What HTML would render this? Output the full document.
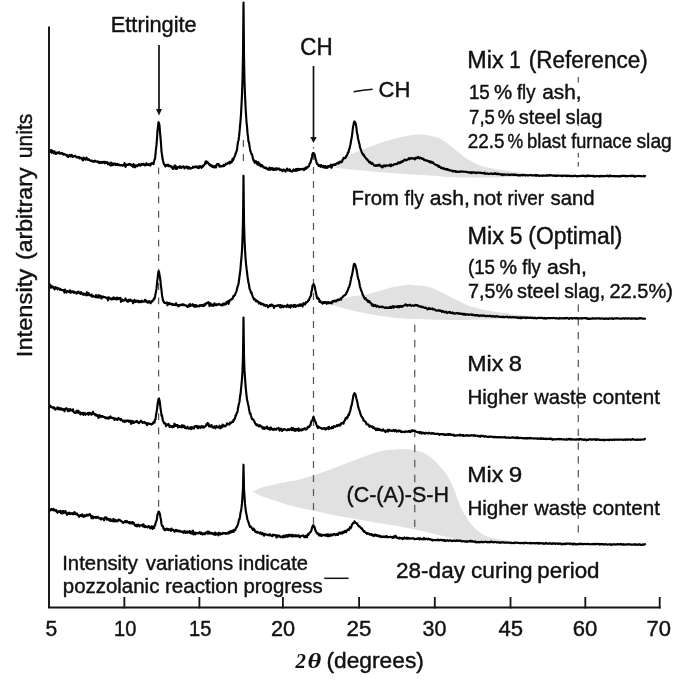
<!DOCTYPE html>
<html><head><meta charset="utf-8"><title>XRD patterns</title>
<style>
html,body{margin:0;padding:0;background:#fff;}
body{width:685px;height:685px;overflow:hidden;}
svg{display:block;}
tspan.ser{font-family:"Liberation Serif","Times New Roman",serif !important;font-weight:bold;font-style:italic;stroke-width:0 !important;}
text{font-family:"Liberation Sans",Arial,Helvetica,sans-serif;fill:#111;stroke:#111;stroke-width:0.42px;}
</style></head><body>
<svg width="685" height="685" viewBox="0 0 685 685">
<rect width="685" height="685" fill="#fff"/>
<path d="M325.5,166.2 C328.1,165.3 337.2,162.8 341.3,160.9 C345.4,159.0 346.8,156.6 350.0,154.8 C353.2,153.1 356.7,151.9 360.5,150.4 C364.3,148.9 368.7,147.2 372.8,145.7 C376.9,144.2 380.9,142.9 385.0,141.6 C389.1,140.3 393.2,139.1 397.3,138.1 C401.4,137.1 405.8,136.1 409.6,135.5 C413.4,134.9 416.7,134.6 420.1,134.6 C423.5,134.6 426.9,135.1 430.0,135.7 C433.1,136.3 435.9,136.8 438.8,138.1 C441.7,139.4 444.6,141.3 447.5,143.4 C450.4,145.5 453.4,148.1 456.3,150.4 C459.2,152.7 462.1,155.4 465.0,157.4 C467.9,159.4 470.9,161.2 473.8,162.7 C476.7,164.2 478.2,165.0 482.6,166.2 C487.0,167.4 494.2,168.7 500.0,169.7 C505.8,170.7 511.8,171.5 517.6,172.3 C523.4,173.1 529.6,173.8 535.0,174.4 C540.4,175.0 547.5,175.6 550.0,175.8 C544.6,176.0 525.9,176.5 517.6,176.7 C509.3,176.9 505.8,177.0 500.0,177.2 C494.2,177.3 488.4,177.5 482.6,177.6 C476.8,177.7 470.9,177.7 465.0,177.6 C459.1,177.5 452.5,177.3 447.5,177.0 C442.5,176.7 439.6,176.2 435.0,175.8 C430.4,175.5 427.0,175.3 420.1,174.9 C413.2,174.5 402.6,173.9 393.8,173.2 C385.1,172.5 376.4,171.7 367.6,170.9 C358.9,170.1 348.3,169.2 341.3,168.4 C334.3,167.6 328.1,166.6 325.5,166.2Z" fill="#e1e1e1"/>
<path d="M326.4,303.3 C328.9,302.6 336.8,300.1 341.3,298.9 C345.8,297.7 349.1,297.1 353.5,296.3 C357.9,295.5 363.2,295.1 367.6,294.2 C372.0,293.3 375.7,291.9 379.8,290.7 C383.9,289.5 388.3,288.1 392.1,287.2 C395.9,286.3 399.4,285.8 402.6,285.4 C405.8,285.0 407.9,284.8 411.4,284.9 C414.9,285.0 420.2,285.6 423.6,286.1 C427.0,286.6 429.5,287.2 432.0,288.0 C434.5,288.8 436.2,289.8 438.8,291.0 C441.4,292.2 444.6,293.9 447.5,295.4 C450.4,296.9 453.4,298.3 456.3,299.8 C459.2,301.3 462.1,302.9 465.0,304.2 C467.9,305.4 470.9,306.4 473.8,307.3 C476.7,308.2 478.2,308.5 482.6,309.4 C487.0,310.3 494.2,311.7 500.0,312.6 C505.8,313.5 511.8,314.1 517.6,314.7 C523.4,315.3 529.6,315.9 535.0,316.4 C540.4,316.9 547.5,317.5 550.0,317.7 C544.0,317.8 522.3,318.2 514.0,318.4 C505.7,318.6 505.2,318.8 500.0,319.0 C494.8,319.2 488.4,319.5 482.6,319.6 C476.8,319.8 470.9,319.8 465.0,319.9 C459.1,319.9 453.3,320.0 447.5,319.9 C441.7,319.8 436.0,319.6 430.0,319.5 C424.0,319.4 417.4,319.4 411.4,319.1 C405.4,318.8 399.6,318.4 393.8,317.7 C388.0,317.0 382.1,316.1 376.3,315.2 C370.5,314.2 364.6,313.2 358.8,312.0 C353.0,310.8 346.7,309.1 341.3,307.7 C335.9,306.2 328.9,304.0 326.4,303.3Z" fill="#e1e1e1"/>
<path d="M252.8,491.7 C254.6,490.9 257.8,488.6 263.4,487.0 C269.0,485.4 280.6,483.2 286.7,481.9 C292.8,480.6 293.4,481.2 300.0,479.4 C306.6,477.6 317.6,474.1 326.3,471.0 C335.1,467.9 343.8,464.2 352.5,461.0 C361.2,457.8 371.7,453.7 378.8,451.8 C385.9,449.9 389.8,450.0 395.0,449.6 C400.2,449.2 405.8,449.3 410.0,449.6 C414.2,449.9 416.9,450.4 420.0,451.4 C423.1,452.4 425.9,453.8 428.8,455.8 C431.7,457.9 434.6,460.6 437.5,463.7 C440.4,466.8 443.7,470.3 446.3,474.2 C448.9,478.1 451.4,483.1 453.3,487.3 C455.2,491.5 456.2,495.8 457.7,499.6 C459.1,503.4 460.4,506.9 462.0,510.1 C463.6,513.3 465.2,515.9 467.3,518.8 C469.4,521.7 471.7,525.0 474.3,527.6 C476.9,530.2 479.8,532.8 483.0,534.6 C486.2,536.4 489.5,537.3 493.6,538.3 C497.7,539.3 503.2,539.9 507.6,540.5 C512.0,541.1 517.9,541.8 520.0,542.0 C516.7,542.1 506.7,542.5 500.0,542.5 C493.3,542.5 487.2,542.3 480.0,541.8 C472.8,541.2 462.8,540.2 456.6,539.2 C450.4,538.2 447.9,537.1 442.6,535.9 C437.3,534.7 432.1,533.3 425.0,531.8 C417.9,530.2 407.5,528.0 400.0,526.6 C392.5,525.2 387.4,524.5 380.2,523.3 C373.0,522.1 364.6,520.6 356.8,519.2 C349.0,517.8 341.2,516.5 333.4,515.0 C325.6,513.5 317.8,511.8 310.0,510.0 C302.2,508.2 294.5,506.6 286.7,504.4 C278.9,502.2 268.2,498.4 263.4,496.8 C258.6,495.2 259.8,495.4 258.0,494.5 C256.2,493.6 253.7,492.2 252.8,491.7Z" fill="#e1e1e1"/>
<line x1="158.6" y1="167.5" x2="158.6" y2="508" stroke="#585858" stroke-width="1.25" stroke-dasharray="6.8 7.65" stroke-dashoffset="0"/>
<line x1="243.4" y1="140" x2="243.4" y2="166" stroke="#585858" stroke-width="1.25" stroke-dasharray="7 7" stroke-dashoffset="0"/>
<line x1="313.5" y1="147" x2="313.5" y2="148.5" stroke="#585858" stroke-width="1.25" stroke-dasharray="2 2" stroke-dashoffset="0"/>
<line x1="313.5" y1="153" x2="313.5" y2="525" stroke="#585858" stroke-width="1.25" stroke-dasharray="7 7" stroke-dashoffset="0"/>
<line x1="414.75" y1="324.75" x2="414.75" y2="527" stroke="#585858" stroke-width="1.25" stroke-dasharray="7.5 7.5" stroke-dashoffset="0"/>
<line x1="578.3" y1="77" x2="578.3" y2="82.5" stroke="#585858" stroke-width="1.25" stroke-dasharray="6 6" stroke-dashoffset="0"/>
<line x1="578.3" y1="124.5" x2="578.3" y2="126" stroke="#585858" stroke-width="1.25" stroke-dasharray="2 2" stroke-dashoffset="0"/>
<line x1="578.3" y1="153" x2="578.3" y2="167" stroke="#585858" stroke-width="1.25" stroke-dasharray="4.5 4.5" stroke-dashoffset="0"/>
<line x1="578.3" y1="304.5" x2="578.3" y2="534" stroke="#585858" stroke-width="1.25" stroke-dasharray="7.2 6.6" stroke-dashoffset="0"/>
<path d="M49.0,152.1 L49.5,150.7 L50.0,150.8 L50.5,150.5 L51.0,152.1 L51.5,150.0 L52.0,152.8 L52.5,151.0 L53.0,152.1 L53.5,152.3 L54.0,153.4 L54.5,151.2 L55.0,152.9 L55.5,153.0 L56.0,154.0 L56.5,152.5 L57.0,153.2 L57.5,152.5 L58.0,152.8 L58.5,153.4 L59.0,152.1 L59.5,153.6 L60.0,153.4 L60.5,153.3 L61.0,153.8 L61.5,152.9 L62.0,153.6 L62.5,153.3 L63.0,153.9 L63.5,154.6 L64.0,153.9 L64.5,154.2 L65.0,154.6 L65.5,154.6 L66.0,154.9 L66.5,155.6 L67.0,154.8 L67.5,156.0 L68.0,157.1 L68.5,156.3 L69.0,155.6 L69.5,154.9 L70.0,154.8 L70.5,156.5 L71.0,155.1 L71.5,154.8 L72.0,155.2 L72.5,157.0 L73.0,155.9 L73.5,156.3 L74.0,156.4 L74.5,156.2 L75.0,155.6 L75.5,156.3 L76.0,156.5 L76.5,157.5 L77.0,157.4 L77.5,157.4 L78.0,157.1 L78.5,157.6 L79.0,156.8 L79.5,158.4 L80.0,158.3 L80.5,157.7 L81.0,158.2 L81.5,158.1 L82.0,159.3 L82.5,159.9 L83.0,160.3 L83.5,157.7 L84.0,157.8 L84.5,158.6 L85.0,159.2 L85.5,159.7 L86.0,159.2 L86.5,157.6 L87.0,158.9 L87.5,159.7 L88.0,159.1 L88.5,159.9 L89.0,159.5 L89.5,159.7 L90.0,160.6 L90.5,160.9 L91.0,161.0 L91.5,161.1 L92.0,160.5 L92.5,161.4 L93.0,161.2 L93.5,161.9 L94.0,161.7 L94.5,161.0 L95.0,160.7 L95.5,160.8 L96.0,161.6 L96.5,161.6 L97.0,161.5 L97.5,161.8 L98.0,161.4 L98.5,162.7 L99.0,161.9 L99.5,163.1 L100.0,162.2 L100.5,162.6 L101.0,161.9 L101.5,162.8 L102.0,163.0 L102.5,162.0 L103.0,162.4 L103.5,162.5 L104.0,161.7 L104.5,163.0 L105.0,163.4 L105.5,161.9 L106.0,163.0 L106.5,162.2 L107.0,163.0 L107.5,162.1 L108.0,164.3 L108.5,163.8 L109.0,163.8 L109.5,163.3 L110.0,164.9 L110.5,165.4 L111.0,162.5 L111.5,164.9 L112.0,165.3 L112.5,164.6 L113.0,163.4 L113.5,164.8 L114.0,164.2 L114.5,164.0 L115.0,163.5 L115.5,165.0 L116.0,165.1 L116.5,164.2 L117.0,164.8 L117.5,163.8 L118.0,165.2 L118.5,164.7 L119.0,164.6 L119.5,164.8 L120.0,165.5 L120.5,165.4 L121.0,165.2 L121.5,165.0 L122.0,165.3 L122.5,165.6 L123.0,165.1 L123.5,165.3 L124.0,164.6 L124.5,163.1 L125.0,165.8 L125.5,166.9 L126.0,165.7 L126.5,164.6 L127.0,164.8 L127.5,164.8 L128.0,164.9 L128.5,164.1 L129.0,164.6 L129.5,163.9 L130.0,164.7 L130.5,164.3 L131.0,165.2 L131.5,164.7 L132.0,165.8 L132.5,165.3 L133.0,167.0 L133.5,164.0 L134.0,165.0 L134.5,166.1 L135.0,167.3 L135.5,165.4 L136.0,165.6 L136.5,165.4 L137.0,166.3 L137.5,165.2 L138.0,165.7 L138.5,165.0 L139.0,164.1 L139.5,165.1 L140.0,165.1 L140.5,165.7 L141.0,164.4 L141.5,164.0 L142.0,164.6 L142.5,164.5 L143.0,164.2 L143.5,163.9 L144.0,165.0 L144.5,164.4 L145.0,165.4 L145.5,164.8 L146.0,165.0 L146.5,163.2 L147.0,164.5 L147.5,164.8 L148.0,165.0 L148.5,165.0 L149.0,164.1 L149.5,165.0 L150.0,164.1 L150.5,165.6 L151.0,163.5 L151.5,163.4 L152.0,162.9 L152.5,163.5 L153.0,162.8 L153.5,164.2 L154.0,161.8 L154.5,159.6 L155.0,158.9 L155.5,154.1 L156.0,149.0 L156.5,144.9 L157.0,138.4 L157.5,130.8 L158.0,126.6 L158.5,122.2 L159.0,123.3 L159.5,125.7 L160.0,132.1 L160.5,137.9 L161.0,143.3 L161.5,151.8 L162.0,154.6 L162.5,158.6 L163.0,160.8 L163.5,162.9 L164.0,164.2 L164.5,164.8 L165.0,165.4 L165.5,166.5 L166.0,165.3 L166.5,164.9 L167.0,165.2 L167.5,165.5 L168.0,164.6 L168.5,166.2 L169.0,165.4 L169.5,165.8 L170.0,166.4 L170.5,165.8 L171.0,166.3 L171.5,167.5 L172.0,167.7 L172.5,166.9 L173.0,169.0 L173.5,166.9 L174.0,167.4 L174.5,167.3 L175.0,165.3 L175.5,168.8 L176.0,167.6 L176.5,166.6 L177.0,168.9 L177.5,167.6 L178.0,167.6 L178.5,167.1 L179.0,167.5 L179.5,166.3 L180.0,167.7 L180.5,166.7 L181.0,167.1 L181.5,167.8 L182.0,166.7 L182.5,166.6 L183.0,166.6 L183.5,166.4 L184.0,167.5 L184.5,168.4 L185.0,167.6 L185.5,167.5 L186.0,166.5 L186.5,167.0 L187.0,166.7 L187.5,168.5 L188.0,167.2 L188.5,168.6 L189.0,167.0 L189.5,167.9 L190.0,168.3 L190.5,168.8 L191.0,168.1 L191.5,168.1 L192.0,167.8 L192.5,167.9 L193.0,166.6 L193.5,167.4 L194.0,167.1 L194.5,167.4 L195.0,167.3 L195.5,166.3 L196.0,166.9 L196.5,166.7 L197.0,167.2 L197.5,167.8 L198.0,166.5 L198.5,167.3 L199.0,168.1 L199.5,166.2 L200.0,166.6 L200.5,166.4 L201.0,166.7 L201.5,167.9 L202.0,166.6 L202.5,165.8 L203.0,166.6 L203.5,165.3 L204.0,165.4 L204.5,164.3 L205.0,164.0 L205.5,161.6 L206.0,163.4 L206.5,161.4 L207.0,161.9 L207.5,162.1 L208.0,162.8 L208.5,163.4 L209.0,164.5 L209.5,164.2 L210.0,165.3 L210.5,164.8 L211.0,165.9 L211.5,166.3 L212.0,165.4 L212.5,166.8 L213.0,166.1 L213.5,167.2 L214.0,167.1 L214.5,167.5 L215.0,165.9 L215.5,166.8 L216.0,167.4 L216.5,165.5 L217.0,164.2 L217.5,164.3 L218.0,163.8 L218.5,164.0 L219.0,165.2 L219.5,166.7 L220.0,165.5 L220.5,166.4 L221.0,166.2 L221.5,166.5 L222.0,166.2 L222.5,166.0 L223.0,166.1 L223.5,164.8 L224.0,166.1 L224.5,165.7 L225.0,164.5 L225.5,164.9 L226.0,163.6 L226.5,163.5 L227.0,164.0 L227.5,163.6 L228.0,163.1 L228.5,162.6 L229.0,162.5 L229.5,163.6 L230.0,161.5 L230.5,162.8 L231.0,162.2 L231.5,162.3 L232.0,161.6 L232.5,158.9 L233.0,160.5 L233.5,159.2 L234.0,157.9 L234.5,156.5 L235.0,156.1 L235.5,153.4 L236.0,153.3 L236.5,150.9 L237.0,149.9 L237.5,145.3 L238.0,142.0 L238.5,140.5 L239.0,136.7 L239.5,132.0 L240.0,126.2 L240.5,121.1 L241.0,114.3 L241.5,105.0 L242.0,94.5 L242.5,80.0 L243.0,56.0 L243.5,2.5 L244.0,55.9 L244.5,81.6 L245.0,94.5 L245.5,106.3 L246.0,114.0 L246.5,121.9 L247.0,126.3 L247.5,133.2 L248.0,136.5 L248.5,141.7 L249.0,142.3 L249.5,146.1 L250.0,148.9 L250.5,151.6 L251.0,152.6 L251.5,154.3 L252.0,154.3 L252.5,156.6 L253.0,158.8 L253.5,160.5 L254.0,160.2 L254.5,162.5 L255.0,162.9 L255.5,161.9 L256.0,161.1 L256.5,161.9 L257.0,163.1 L257.5,164.6 L258.0,163.9 L258.5,162.2 L259.0,163.8 L259.5,165.4 L260.0,164.4 L260.5,164.3 L261.0,166.4 L261.5,165.2 L262.0,165.0 L262.5,166.1 L263.0,166.7 L263.5,166.6 L264.0,167.7 L264.5,168.0 L265.0,167.8 L265.5,167.5 L266.0,168.5 L266.5,168.0 L267.0,168.9 L267.5,169.0 L268.0,168.9 L268.5,169.9 L269.0,168.9 L269.5,167.6 L270.0,167.9 L270.5,169.8 L271.0,168.8 L271.5,168.8 L272.0,168.0 L272.5,169.6 L273.0,168.5 L273.5,169.9 L274.0,168.7 L274.5,169.8 L275.0,169.6 L275.5,168.4 L276.0,169.7 L276.5,168.4 L277.0,168.3 L277.5,169.5 L278.0,168.7 L278.5,168.6 L279.0,169.1 L279.5,168.7 L280.0,170.3 L280.5,170.0 L281.0,169.7 L281.5,169.8 L282.0,170.4 L282.5,171.1 L283.0,170.4 L283.5,169.5 L284.0,170.4 L284.5,170.1 L285.0,170.3 L285.5,171.7 L286.0,169.9 L286.5,169.7 L287.0,168.6 L287.5,169.5 L288.0,170.6 L288.5,170.0 L289.0,170.6 L289.5,169.3 L290.0,169.8 L290.5,170.7 L291.0,171.3 L291.5,171.1 L292.0,171.5 L292.5,171.5 L293.0,170.8 L293.5,169.4 L294.0,170.2 L294.5,170.6 L295.0,170.0 L295.5,170.8 L296.0,169.1 L296.5,169.7 L297.0,170.7 L297.5,168.8 L298.0,169.7 L298.5,170.1 L299.0,168.9 L299.5,169.9 L300.0,169.2 L300.5,169.4 L301.0,169.1 L301.5,169.4 L302.0,168.9 L302.5,169.2 L303.0,168.7 L303.5,169.3 L304.0,170.1 L304.5,168.5 L305.0,168.8 L305.5,167.7 L306.0,168.9 L306.5,167.7 L307.0,167.0 L307.5,167.6 L308.0,166.5 L308.5,166.5 L309.0,166.4 L309.5,164.0 L310.0,163.1 L310.5,162.7 L311.0,160.6 L311.5,158.9 L312.0,157.0 L312.5,153.8 L313.0,153.1 L313.5,152.9 L314.0,153.6 L314.5,154.0 L315.0,156.3 L315.5,158.9 L316.0,160.3 L316.5,162.2 L317.0,164.0 L317.5,164.1 L318.0,164.2 L318.5,165.9 L319.0,165.7 L319.5,165.8 L320.0,165.1 L320.5,166.8 L321.0,165.0 L321.5,165.4 L322.0,166.4 L322.5,167.2 L323.0,167.3 L323.5,165.9 L324.0,166.7 L324.5,166.4 L325.0,168.0 L325.5,166.1 L326.0,166.7 L326.5,167.5 L327.0,166.8 L327.5,167.8 L328.0,166.1 L328.5,166.6 L329.0,166.6 L329.5,165.8 L330.0,166.6 L330.5,166.3 L331.0,164.7 L331.5,167.8 L332.0,165.9 L332.5,165.4 L333.0,164.6 L333.5,165.0 L334.0,164.4 L334.5,164.9 L335.0,164.4 L335.5,164.9 L336.0,163.7 L336.5,163.6 L337.0,163.5 L337.5,162.8 L338.0,162.7 L338.5,163.5 L339.0,163.1 L339.5,161.9 L340.0,161.5 L340.5,162.0 L341.0,162.3 L341.5,161.3 L342.0,161.8 L342.5,159.9 L343.0,159.8 L343.5,157.9 L344.0,158.5 L344.5,158.2 L345.0,157.8 L345.5,157.9 L346.0,156.2 L346.5,156.3 L347.0,155.1 L347.5,154.2 L348.0,152.3 L348.5,152.4 L349.0,149.6 L349.5,148.9 L350.0,146.3 L350.5,144.2 L351.0,141.2 L351.5,138.6 L352.0,135.6 L352.5,131.6 L353.0,127.1 L353.5,125.0 L354.0,122.1 L354.5,121.5 L355.0,122.1 L355.5,123.0 L356.0,124.9 L356.5,128.6 L357.0,133.0 L357.5,134.7 L358.0,138.5 L358.5,140.1 L359.0,142.9 L359.5,144.1 L360.0,147.6 L360.5,148.5 L361.0,150.5 L361.5,151.3 L362.0,153.0 L362.5,153.5 L363.0,154.8 L363.5,154.3 L364.0,155.2 L364.5,156.7 L365.0,157.1 L365.5,157.6 L366.0,158.4 L366.5,159.0 L367.0,159.1 L367.5,160.4 L368.0,160.2 L368.5,160.9 L369.0,162.0 L369.5,162.5 L370.0,161.9 L370.5,163.1 L371.0,162.6 L371.5,163.9 L372.0,162.8 L372.5,163.5 L373.0,164.0 L373.5,164.5 L374.0,165.5 L374.5,165.3 L375.0,165.8 L375.5,165.8 L376.0,165.1 L376.5,165.2 L377.0,165.8 L377.5,165.3 L378.0,165.2 L378.5,164.8 L379.0,165.6 L379.5,164.5 L380.0,165.7 L380.5,165.7 L381.0,166.6 L381.5,166.3 L382.0,166.5 L382.5,167.4 L383.0,165.9 L383.5,166.3 L384.0,165.3 L384.5,166.2 L385.0,166.2 L385.5,166.3 L386.0,165.3 L386.5,165.7 L387.0,165.6 L387.5,165.5 L388.0,165.6 L388.5,165.5 L389.0,165.5 L389.5,164.8 L390.0,164.7 L390.5,166.3 L391.0,166.0 L391.5,164.6 L392.0,165.2 L392.5,165.1 L393.0,165.3 L393.5,164.9 L394.0,164.3 L394.5,164.5 L395.0,164.1 L395.5,164.2 L396.0,163.8 L396.5,163.8 L397.0,164.2 L397.5,163.9 L398.0,162.6 L398.5,162.7 L399.0,162.3 L399.5,163.1 L400.0,162.4 L400.5,162.9 L401.0,161.8 L401.5,161.7 L402.0,161.1 L402.5,161.9 L403.0,161.1 L403.5,160.5 L404.0,160.5 L404.5,159.5 L405.0,160.1 L405.5,160.2 L406.0,160.0 L406.5,160.3 L407.0,159.5 L407.5,159.6 L408.0,159.2 L408.5,158.9 L409.0,158.2 L409.5,159.3 L410.0,158.5 L410.5,158.5 L411.0,158.0 L411.5,158.6 L412.0,158.5 L412.5,158.4 L413.0,158.2 L413.5,158.7 L414.0,158.5 L414.5,158.4 L415.0,159.4 L415.5,157.9 L416.0,157.9 L416.5,157.7 L417.0,158.2 L417.5,157.8 L418.0,157.0 L418.5,157.6 L419.0,158.1 L419.5,158.5 L420.0,157.6 L420.5,158.1 L421.0,158.2 L421.5,158.0 L422.0,158.8 L422.5,158.7 L423.0,159.0 L423.5,158.9 L424.0,159.9 L424.5,159.7 L425.0,160.2 L425.5,160.0 L426.0,160.7 L426.5,160.3 L427.0,160.5 L427.5,160.8 L428.0,161.1 L428.5,161.3 L429.0,161.9 L429.5,161.2 L430.0,161.4 L430.5,162.6 L431.0,162.5 L431.5,161.7 L432.0,162.8 L432.5,163.0 L433.0,162.4 L433.5,163.4 L434.0,163.7 L434.5,164.1 L435.0,164.5 L435.5,164.5 L436.0,165.1 L436.5,165.0 L437.0,165.1 L437.5,165.5 L438.0,166.3 L438.5,165.7 L439.0,166.8 L439.5,166.4 L440.0,167.0 L440.5,167.5 L441.0,168.1 L441.5,167.4 L442.0,167.9 L442.5,168.3 L443.0,168.3 L443.5,168.9 L444.0,168.2 L444.5,169.0 L445.0,169.1 L445.5,169.0 L446.0,169.5 L446.5,168.8 L447.0,169.6 L447.5,169.2 L448.0,169.9 L448.5,169.7 L449.0,170.2 L449.5,170.4 L450.0,169.9 L450.5,170.4 L451.0,170.6 L451.5,170.7 L452.0,170.6 L452.5,171.3 L453.0,171.0 L453.5,171.5 L454.0,170.9 L454.5,170.8 L455.0,171.1 L455.5,171.0 L456.0,172.0 L456.5,171.5 L457.0,172.0 L457.5,171.6 L458.0,171.6 L458.5,171.8 L459.0,171.8 L459.5,172.0 L460.0,171.7 L460.5,171.5 L461.0,171.3 L461.5,171.5 L462.0,171.7 L462.5,171.7 L463.0,171.5 L463.5,171.5 L464.0,171.7 L464.5,171.8 L465.0,171.7 L465.5,171.8 L466.0,171.9 L466.5,172.2 L467.0,171.9 L467.5,172.1 L468.0,172.2 L468.5,172.3 L469.0,172.7 L469.5,172.6 L470.0,172.6 L470.5,172.1 L471.0,172.7 L471.5,173.1 L472.0,172.3 L472.5,172.2 L473.0,172.5 L473.5,172.8 L474.0,172.7 L474.5,172.3 L475.0,172.5 L475.5,172.8 L476.0,172.7 L476.5,173.1 L477.0,172.8 L477.5,172.6 L478.0,172.7 L478.5,172.5 L479.0,172.5 L479.5,172.8 L480.0,173.0 L480.5,172.5 L481.0,172.8 L481.5,173.0 L482.0,173.2 L482.5,173.1 L483.0,173.2 L483.5,173.1 L484.0,173.4 L484.5,172.7 L485.0,173.7 L485.5,173.8 L486.0,173.5 L486.5,173.6 L487.0,173.6 L487.5,173.4 L488.0,173.8 L488.5,173.9 L489.0,173.9 L489.5,173.9 L490.0,173.7 L490.5,173.6 L491.0,173.5 L491.5,173.7 L492.0,173.6 L492.5,174.1 L493.0,173.7 L493.5,173.5 L494.0,173.9 L494.5,173.8 L495.0,173.1 L495.5,173.9 L496.0,173.5 L496.5,174.1 L497.0,173.7 L497.5,173.7 L498.0,174.2 L498.5,173.7 L499.0,174.1 L499.5,174.3 L500.0,174.4 L500.5,174.5 L501.0,174.3 L501.5,174.2 L502.0,175.0 L502.5,174.4 L503.0,175.0 L503.5,174.4 L504.0,174.7 L504.5,174.8 L505.0,174.3 L505.5,174.6 L506.0,174.8 L506.5,174.7 L507.0,174.6 L507.5,174.7 L508.0,174.6 L508.5,174.5 L509.0,175.0 L509.5,174.6 L510.0,175.1 L510.5,174.9 L511.0,174.6 L511.5,174.7 L512.0,174.6 L512.5,174.5 L513.0,174.8 L513.5,174.5 L514.0,175.1 L514.5,174.9 L515.0,174.6 L515.5,174.9 L516.0,174.9 L516.5,174.7 L517.0,175.2 L517.5,175.3 L518.0,175.3 L518.5,175.1 L519.0,175.5 L519.5,175.2 L520.0,175.4 L520.5,175.6 L521.0,175.1 L521.5,174.8 L522.0,175.1 L522.5,175.3 L523.0,175.3 L523.5,174.8 L524.0,175.1 L524.5,175.2 L525.0,175.3 L525.5,175.5 L526.0,175.0 L526.5,175.0 L527.0,175.4 L527.5,175.4 L528.0,175.4 L528.5,175.5 L529.0,175.2 L529.5,175.2 L530.0,175.1 L530.5,174.9 L531.0,175.1 L531.5,175.4 L532.0,175.3 L532.5,175.2 L533.0,175.4 L533.5,175.3 L534.0,175.5 L534.5,175.5 L535.0,175.3 L535.5,174.9 L536.0,175.8 L536.5,175.5 L537.0,175.0 L537.5,175.5 L538.0,175.6 L538.5,175.6 L539.0,175.8 L539.5,175.5 L540.0,175.8 L540.5,175.7 L541.0,175.6 L541.5,175.6 L542.0,175.7 L542.5,175.8 L543.0,175.4 L543.5,175.5 L544.0,175.7 L544.5,175.6 L545.0,175.6 L545.5,175.7 L546.0,175.8 L546.5,175.5 L547.0,175.1 L547.5,175.6 L548.0,175.7 L548.5,175.5 L549.0,175.5 L549.5,175.0 L550.0,175.6 L550.5,175.4 L551.0,175.2 L551.5,175.3 L552.0,175.3 L552.5,175.6 L553.0,175.6 L553.5,175.8 L554.0,175.7 L554.5,175.4 L555.0,175.4 L555.5,175.9 L556.0,176.0 L556.5,175.7 L557.0,175.8 L557.5,175.5 L558.0,175.3 L558.5,175.6 L559.0,175.7 L559.5,175.8 L560.0,175.7 L560.5,175.6 L561.0,175.9 L561.5,176.1 L562.0,175.7 L562.5,176.2 L563.0,175.5 L563.5,175.6 L564.0,175.7 L564.5,175.6 L565.0,176.0 L565.5,175.6 L566.0,175.9 L566.5,175.7 L567.0,176.2 L567.5,175.7 L568.0,175.9 L568.5,175.9 L569.0,175.6 L569.5,176.1 L570.0,176.2 L570.5,176.1 L571.0,175.8 L571.5,175.9 L572.0,176.2 L572.5,176.2 L573.0,176.3 L573.5,175.7 L574.0,175.8 L574.5,175.9 L575.0,175.5 L575.5,175.9 L576.0,176.1 L576.5,176.3 L577.0,176.1 L577.5,176.4 L578.0,176.2 L578.5,176.1 L579.0,175.9 L579.5,176.1 L580.0,176.0 L580.5,176.0 L581.0,175.9 L581.5,176.0 L582.0,176.0 L582.5,175.7 L583.0,176.0 L583.5,176.0 L584.0,175.6 L584.5,176.0 L585.0,176.2 L585.5,176.4 L586.0,176.2 L586.5,175.7 L587.0,176.1 L587.5,176.0 L588.0,175.4 L588.5,176.0 L589.0,176.1 L589.5,175.9 L590.0,175.9 L590.5,175.9 L591.0,176.2 L591.5,175.9 L592.0,176.0 L592.5,176.1 L593.0,176.1 L593.5,175.7 L594.0,176.5 L594.5,176.3 L595.0,176.3 L595.5,176.3 L596.0,176.1 L596.5,176.1 L597.0,176.0 L597.5,176.1 L598.0,176.3 L598.5,176.2 L599.0,176.1 L599.5,176.6 L600.0,175.9 L600.5,175.9 L601.0,176.3 L601.5,176.2 L602.0,175.8 L602.5,176.1 L603.0,176.0 L603.5,176.3 L604.0,175.8 L604.5,176.2 L605.0,176.1 L605.5,176.0 L606.0,176.0 L606.5,176.1 L607.0,175.6 L607.5,176.0 L608.0,175.9 L608.5,176.4 L609.0,175.8 L609.5,176.1 L610.0,175.4 L610.5,176.2 L611.0,176.1 L611.5,175.9 L612.0,176.1 L612.5,176.0 L613.0,176.1 L613.5,176.1 L614.0,175.9 L614.5,176.1 L615.0,176.5 L615.5,176.1 L616.0,176.2 L616.5,176.1 L617.0,176.2 L617.5,176.3 L618.0,176.2 L618.5,176.4 L619.0,176.1 L619.5,176.2 L620.0,176.4 L620.5,176.2 L621.0,175.9 L621.5,176.2 L622.0,175.8 L622.5,175.8 L623.0,175.7 L623.5,175.9 L624.0,175.8 L624.5,175.8 L625.0,176.0 L625.5,176.3 L626.0,175.9 L626.5,176.1 L627.0,176.0 L627.5,176.0 L628.0,176.3 L628.5,176.1 L629.0,175.9 L629.5,176.0 L630.0,175.9 L630.5,176.0 L631.0,176.2 L631.5,175.7 L632.0,175.9 L632.5,175.9 L633.0,175.7 L633.5,176.4 L634.0,176.2 L634.5,176.6 L635.0,176.0 L635.5,176.5 L636.0,176.2 L636.5,176.2 L637.0,176.1 L637.5,176.0 L638.0,175.9 L638.5,176.2 L639.0,175.9 L639.5,176.0 L640.0,176.1 L640.5,176.2 L641.0,176.1 L641.5,176.2 L642.0,176.3 L642.5,176.2 L643.0,176.2 L643.5,175.9 L644.0,175.9 L644.5,176.4 L645.0,176.0" fill="none" stroke="#000" stroke-width="2.15" stroke-linejoin="round" stroke-linecap="round"/>
<path d="M49.0,284.9 L49.5,285.7 L50.0,284.6 L50.5,287.6 L51.0,285.6 L51.5,286.8 L52.0,287.6 L52.5,286.4 L53.0,286.9 L53.5,287.1 L54.0,288.1 L54.5,289.4 L55.0,288.0 L55.5,287.1 L56.0,288.3 L56.5,287.7 L57.0,288.4 L57.5,289.3 L58.0,288.0 L58.5,288.7 L59.0,288.5 L59.5,289.1 L60.0,289.8 L60.5,289.0 L61.0,289.7 L61.5,290.0 L62.0,290.0 L62.5,290.1 L63.0,289.9 L63.5,290.6 L64.0,290.8 L64.5,292.7 L65.0,289.5 L65.5,291.4 L66.0,291.7 L66.5,292.5 L67.0,291.6 L67.5,290.9 L68.0,291.2 L68.5,291.7 L69.0,291.3 L69.5,292.1 L70.0,290.3 L70.5,292.6 L71.0,292.3 L71.5,291.3 L72.0,292.1 L72.5,292.2 L73.0,291.3 L73.5,291.7 L74.0,292.9 L74.5,292.0 L75.0,292.3 L75.5,292.7 L76.0,293.0 L76.5,293.6 L77.0,292.2 L77.5,293.2 L78.0,292.9 L78.5,291.5 L79.0,292.7 L79.5,293.1 L80.0,293.4 L80.5,293.8 L81.0,292.0 L81.5,293.8 L82.0,293.5 L82.5,293.4 L83.0,294.6 L83.5,294.5 L84.0,293.6 L84.5,294.7 L85.0,293.9 L85.5,294.5 L86.0,293.6 L86.5,295.4 L87.0,292.2 L87.5,294.2 L88.0,295.0 L88.5,293.1 L89.0,294.4 L89.5,294.6 L90.0,295.2 L90.5,295.6 L91.0,294.9 L91.5,294.5 L92.0,296.6 L92.5,296.8 L93.0,295.7 L93.5,296.4 L94.0,296.3 L94.5,296.6 L95.0,296.5 L95.5,297.2 L96.0,295.1 L96.5,297.3 L97.0,296.6 L97.5,296.3 L98.0,297.4 L98.5,295.0 L99.0,297.6 L99.5,296.9 L100.0,295.8 L100.5,296.8 L101.0,296.2 L101.5,298.5 L102.0,297.9 L102.5,296.9 L103.0,296.4 L103.5,296.7 L104.0,297.2 L104.5,297.3 L105.0,297.1 L105.5,297.4 L106.0,297.7 L106.5,298.1 L107.0,297.8 L107.5,297.8 L108.0,300.3 L108.5,297.4 L109.0,297.6 L109.5,298.6 L110.0,298.2 L110.5,298.8 L111.0,298.7 L111.5,299.4 L112.0,299.0 L112.5,298.0 L113.0,299.3 L113.5,297.4 L114.0,299.0 L114.5,298.6 L115.0,298.0 L115.5,299.1 L116.0,298.5 L116.5,299.4 L117.0,297.5 L117.5,299.2 L118.0,299.1 L118.5,298.6 L119.0,297.8 L119.5,298.9 L120.0,298.3 L120.5,298.0 L121.0,301.9 L121.5,300.6 L122.0,301.0 L122.5,299.7 L123.0,300.6 L123.5,300.6 L124.0,300.6 L124.5,300.1 L125.0,299.9 L125.5,298.4 L126.0,300.2 L126.5,300.6 L127.0,301.2 L127.5,300.4 L128.0,301.8 L128.5,300.3 L129.0,299.7 L129.5,301.1 L130.0,300.3 L130.5,299.7 L131.0,300.6 L131.5,301.0 L132.0,300.6 L132.5,300.7 L133.0,303.2 L133.5,301.2 L134.0,302.1 L134.5,299.9 L135.0,301.6 L135.5,302.0 L136.0,301.0 L136.5,300.6 L137.0,301.7 L137.5,301.2 L138.0,300.7 L138.5,302.2 L139.0,302.3 L139.5,301.6 L140.0,301.0 L140.5,301.9 L141.0,302.2 L141.5,301.7 L142.0,300.7 L142.5,301.5 L143.0,301.7 L143.5,301.6 L144.0,301.6 L144.5,301.5 L145.0,299.9 L145.5,300.4 L146.0,300.4 L146.5,302.2 L147.0,301.4 L147.5,301.8 L148.0,302.7 L148.5,301.8 L149.0,301.1 L149.5,301.9 L150.0,302.1 L150.5,303.2 L151.0,302.6 L151.5,301.0 L152.0,301.7 L152.5,301.2 L153.0,300.0 L153.5,300.2 L154.0,298.4 L154.5,298.8 L155.0,296.7 L155.5,294.1 L156.0,291.4 L156.5,288.4 L157.0,283.3 L157.5,279.0 L158.0,275.0 L158.5,271.4 L159.0,271.5 L159.5,275.3 L160.0,277.5 L160.5,281.3 L161.0,286.5 L161.5,289.8 L162.0,295.1 L162.5,297.6 L163.0,300.3 L163.5,301.4 L164.0,302.1 L164.5,303.0 L165.0,303.0 L165.5,303.0 L166.0,302.9 L166.5,303.4 L167.0,302.4 L167.5,305.3 L168.0,303.0 L168.5,304.0 L169.0,303.1 L169.5,302.8 L170.0,304.1 L170.5,304.1 L171.0,304.3 L171.5,304.5 L172.0,303.6 L172.5,304.7 L173.0,305.1 L173.5,304.4 L174.0,304.2 L174.5,305.0 L175.0,304.8 L175.5,305.1 L176.0,303.3 L176.5,305.2 L177.0,305.2 L177.5,304.8 L178.0,305.4 L178.5,306.4 L179.0,305.1 L179.5,305.7 L180.0,304.7 L180.5,304.7 L181.0,304.8 L181.5,304.5 L182.0,305.1 L182.5,304.5 L183.0,305.2 L183.5,304.4 L184.0,304.5 L184.5,305.3 L185.0,305.3 L185.5,305.3 L186.0,305.3 L186.5,305.6 L187.0,306.6 L187.5,307.0 L188.0,306.3 L188.5,305.3 L189.0,306.4 L189.5,304.3 L190.0,304.2 L190.5,305.9 L191.0,305.5 L191.5,305.4 L192.0,305.2 L192.5,304.2 L193.0,304.4 L193.5,306.3 L194.0,306.1 L194.5,305.1 L195.0,307.0 L195.5,305.0 L196.0,305.3 L196.5,306.5 L197.0,305.5 L197.5,306.3 L198.0,306.1 L198.5,305.8 L199.0,306.5 L199.5,306.3 L200.0,305.0 L200.5,305.5 L201.0,305.7 L201.5,305.5 L202.0,304.9 L202.5,305.9 L203.0,306.1 L203.5,305.0 L204.0,306.0 L204.5,304.2 L205.0,303.9 L205.5,304.9 L206.0,303.6 L206.5,303.0 L207.0,303.2 L207.5,302.6 L208.0,303.1 L208.5,302.1 L209.0,303.2 L209.5,306.1 L210.0,304.4 L210.5,303.3 L211.0,305.2 L211.5,305.1 L212.0,305.7 L212.5,305.0 L213.0,304.4 L213.5,305.8 L214.0,305.1 L214.5,303.4 L215.0,304.9 L215.5,304.3 L216.0,305.2 L216.5,304.3 L217.0,305.0 L217.5,304.3 L218.0,304.7 L218.5,304.5 L219.0,303.9 L219.5,304.3 L220.0,304.6 L220.5,304.6 L221.0,305.2 L221.5,304.6 L222.0,304.9 L222.5,305.5 L223.0,303.8 L223.5,304.4 L224.0,303.4 L224.5,303.8 L225.0,304.7 L225.5,303.5 L226.0,304.1 L226.5,302.1 L227.0,301.8 L227.5,303.0 L228.0,301.3 L228.5,303.9 L229.0,302.4 L229.5,300.3 L230.0,300.7 L230.5,299.7 L231.0,299.8 L231.5,299.0 L232.0,299.0 L232.5,299.0 L233.0,297.1 L233.5,295.8 L234.0,296.3 L234.5,295.2 L235.0,295.2 L235.5,293.3 L236.0,292.5 L236.5,291.1 L237.0,288.9 L237.5,286.7 L238.0,285.5 L238.5,284.2 L239.0,280.1 L239.5,276.4 L240.0,273.0 L240.5,268.6 L241.0,262.1 L241.5,257.1 L242.0,250.5 L242.5,238.8 L243.0,220.7 L243.5,175.7 L244.0,222.5 L244.5,239.3 L245.0,249.2 L245.5,257.6 L246.0,263.5 L246.5,268.1 L247.0,272.2 L247.5,276.4 L248.0,279.6 L248.5,283.1 L249.0,284.5 L249.5,288.5 L250.0,289.7 L250.5,291.0 L251.0,293.0 L251.5,292.4 L252.0,294.6 L252.5,295.8 L253.0,297.7 L253.5,297.7 L254.0,299.6 L254.5,298.9 L255.0,299.8 L255.5,299.6 L256.0,301.4 L256.5,300.5 L257.0,301.4 L257.5,301.2 L258.0,301.4 L258.5,302.4 L259.0,303.6 L259.5,302.5 L260.0,302.5 L260.5,303.3 L261.0,304.4 L261.5,303.4 L262.0,303.8 L262.5,304.2 L263.0,303.9 L263.5,304.5 L264.0,305.5 L264.5,304.7 L265.0,305.2 L265.5,306.1 L266.0,305.5 L266.5,305.1 L267.0,305.2 L267.5,305.2 L268.0,307.3 L268.5,306.0 L269.0,306.3 L269.5,306.0 L270.0,304.8 L270.5,306.1 L271.0,305.6 L271.5,304.5 L272.0,305.7 L272.5,305.0 L273.0,305.5 L273.5,306.4 L274.0,307.9 L274.5,306.0 L275.0,305.9 L275.5,305.9 L276.0,306.1 L276.5,305.9 L277.0,305.4 L277.5,305.5 L278.0,305.6 L278.5,305.1 L279.0,305.7 L279.5,305.3 L280.0,307.1 L280.5,305.1 L281.0,307.4 L281.5,305.9 L282.0,305.5 L282.5,305.7 L283.0,307.0 L283.5,307.1 L284.0,305.8 L284.5,306.4 L285.0,306.1 L285.5,306.2 L286.0,306.4 L286.5,307.0 L287.0,305.2 L287.5,304.7 L288.0,306.5 L288.5,306.3 L289.0,307.0 L289.5,305.5 L290.0,305.9 L290.5,307.6 L291.0,305.1 L291.5,306.3 L292.0,305.8 L292.5,305.9 L293.0,305.4 L293.5,306.9 L294.0,304.9 L294.5,305.0 L295.0,305.1 L295.5,306.9 L296.0,306.2 L296.5,306.3 L297.0,305.4 L297.5,305.4 L298.0,305.4 L298.5,306.0 L299.0,305.5 L299.5,304.4 L300.0,305.9 L300.5,305.1 L301.0,304.3 L301.5,305.1 L302.0,304.5 L302.5,306.5 L303.0,304.7 L303.5,303.2 L304.0,304.2 L304.5,303.5 L305.0,304.6 L305.5,303.7 L306.0,302.2 L306.5,302.6 L307.0,301.9 L307.5,301.7 L308.0,301.3 L308.5,299.8 L309.0,300.2 L309.5,298.4 L310.0,297.1 L310.5,296.5 L311.0,295.4 L311.5,291.2 L312.0,290.2 L312.5,285.7 L313.0,285.6 L313.5,284.0 L314.0,284.7 L314.5,285.8 L315.0,288.1 L315.5,290.7 L316.0,293.0 L316.5,295.4 L317.0,298.1 L317.5,297.4 L318.0,299.0 L318.5,299.0 L319.0,298.9 L319.5,301.9 L320.0,300.8 L320.5,301.6 L321.0,302.1 L321.5,302.7 L322.0,302.5 L322.5,303.7 L323.0,302.5 L323.5,301.8 L324.0,303.1 L324.5,302.9 L325.0,302.1 L325.5,302.4 L326.0,302.2 L326.5,303.8 L327.0,302.4 L327.5,302.2 L328.0,303.2 L328.5,302.0 L329.0,303.2 L329.5,303.2 L330.0,302.6 L330.5,302.7 L331.0,302.3 L331.5,303.4 L332.0,302.4 L332.5,301.2 L333.0,300.9 L333.5,301.6 L334.0,301.5 L334.5,300.7 L335.0,301.1 L335.5,300.7 L336.0,301.4 L336.5,300.9 L337.0,300.2 L337.5,300.3 L338.0,299.4 L338.5,300.2 L339.0,299.9 L339.5,299.4 L340.0,299.4 L340.5,298.5 L341.0,299.7 L341.5,297.9 L342.0,298.0 L342.5,297.3 L343.0,296.3 L343.5,296.3 L344.0,295.6 L344.5,295.5 L345.0,295.0 L345.5,294.7 L346.0,294.1 L346.5,292.9 L347.0,292.1 L347.5,290.9 L348.0,289.7 L348.5,287.8 L349.0,287.6 L349.5,285.7 L350.0,284.1 L350.5,281.5 L351.0,279.2 L351.5,276.3 L352.0,275.1 L352.5,272.4 L353.0,269.5 L353.5,266.3 L354.0,264.0 L354.5,263.9 L355.0,264.2 L355.5,265.8 L356.0,267.8 L356.5,269.5 L357.0,272.3 L357.5,275.3 L358.0,277.9 L358.5,279.7 L359.0,280.9 L359.5,284.0 L360.0,286.8 L360.5,288.1 L361.0,290.3 L361.5,290.9 L362.0,292.5 L362.5,294.2 L363.0,295.4 L363.5,296.2 L364.0,297.4 L364.5,298.3 L365.0,299.0 L365.5,298.0 L366.0,299.3 L366.5,300.0 L367.0,300.4 L367.5,300.1 L368.0,301.9 L368.5,301.2 L369.0,302.1 L369.5,301.1 L370.0,302.4 L370.5,303.0 L371.0,303.0 L371.5,304.3 L372.0,305.5 L372.5,304.4 L373.0,304.5 L373.5,306.1 L374.0,305.8 L374.5,305.4 L375.0,305.0 L375.5,306.0 L376.0,306.0 L376.5,306.8 L377.0,305.6 L377.5,306.2 L378.0,306.2 L378.5,306.2 L379.0,307.1 L379.5,307.2 L380.0,306.7 L380.5,306.7 L381.0,306.6 L381.5,307.1 L382.0,306.8 L382.5,306.5 L383.0,307.0 L383.5,307.0 L384.0,307.5 L384.5,307.8 L385.0,307.9 L385.5,307.7 L386.0,307.3 L386.5,307.9 L387.0,307.6 L387.5,307.5 L388.0,307.9 L388.5,307.8 L389.0,307.9 L389.5,307.2 L390.0,306.9 L390.5,307.9 L391.0,306.9 L391.5,307.8 L392.0,306.7 L392.5,306.9 L393.0,306.1 L393.5,307.8 L394.0,306.7 L394.5,306.7 L395.0,306.4 L395.5,306.6 L396.0,306.9 L396.5,306.5 L397.0,306.5 L397.5,307.2 L398.0,306.0 L398.5,307.1 L399.0,307.3 L399.5,306.2 L400.0,306.9 L400.5,306.2 L401.0,305.9 L401.5,306.4 L402.0,306.8 L402.5,306.7 L403.0,306.1 L403.5,305.7 L404.0,305.6 L404.5,305.3 L405.0,305.2 L405.5,304.3 L406.0,305.0 L406.5,304.9 L407.0,305.8 L407.5,305.2 L408.0,305.1 L408.5,305.3 L409.0,305.4 L409.5,305.0 L410.0,304.6 L410.5,305.3 L411.0,305.7 L411.5,305.8 L412.0,305.5 L412.5,305.4 L413.0,305.6 L413.5,305.6 L414.0,305.8 L414.5,305.4 L415.0,305.4 L415.5,304.8 L416.0,305.5 L416.5,305.3 L417.0,305.0 L417.5,305.5 L418.0,306.0 L418.5,305.6 L419.0,306.5 L419.5,306.4 L420.0,306.6 L420.5,306.3 L421.0,306.9 L421.5,307.2 L422.0,306.7 L422.5,306.8 L423.0,306.9 L423.5,307.4 L424.0,307.5 L424.5,308.0 L425.0,308.0 L425.5,307.6 L426.0,307.6 L426.5,308.3 L427.0,308.7 L427.5,309.4 L428.0,308.9 L428.5,308.6 L429.0,308.0 L429.5,308.9 L430.0,308.7 L430.5,308.5 L431.0,309.1 L431.5,308.9 L432.0,308.8 L432.5,308.5 L433.0,309.5 L433.5,309.4 L434.0,309.4 L434.5,309.4 L435.0,309.5 L435.5,310.3 L436.0,310.3 L436.5,310.7 L437.0,310.5 L437.5,310.4 L438.0,310.7 L438.5,310.6 L439.0,310.1 L439.5,310.6 L440.0,310.9 L440.5,310.6 L441.0,311.0 L441.5,310.9 L442.0,311.9 L442.5,311.1 L443.0,311.3 L443.5,311.4 L444.0,312.1 L444.5,312.3 L445.0,311.8 L445.5,312.2 L446.0,311.7 L446.5,312.1 L447.0,313.0 L447.5,312.6 L448.0,312.4 L448.5,312.0 L449.0,312.4 L449.5,312.1 L450.0,311.9 L450.5,312.9 L451.0,313.0 L451.5,312.9 L452.0,313.2 L452.5,312.5 L453.0,313.5 L453.5,312.8 L454.0,313.3 L454.5,313.3 L455.0,313.5 L455.5,313.7 L456.0,313.3 L456.5,313.2 L457.0,312.9 L457.5,313.4 L458.0,313.2 L458.5,313.1 L459.0,313.4 L459.5,313.9 L460.0,313.6 L460.5,313.5 L461.0,313.9 L461.5,313.5 L462.0,313.5 L462.5,314.3 L463.0,314.0 L463.5,314.5 L464.0,313.6 L464.5,314.4 L465.0,314.1 L465.5,314.9 L466.0,314.2 L466.5,314.2 L467.0,314.5 L467.5,314.5 L468.0,314.4 L468.5,314.8 L469.0,314.7 L469.5,314.7 L470.0,314.6 L470.5,314.4 L471.0,314.4 L471.5,314.8 L472.0,314.4 L472.5,315.2 L473.0,314.8 L473.5,314.7 L474.0,315.2 L474.5,315.0 L475.0,315.3 L475.5,315.1 L476.0,315.7 L476.5,315.1 L477.0,314.8 L477.5,315.1 L478.0,315.1 L478.5,315.7 L479.0,316.1 L479.5,315.6 L480.0,315.3 L480.5,315.7 L481.0,315.8 L481.5,315.6 L482.0,315.7 L482.5,315.6 L483.0,315.3 L483.5,315.8 L484.0,315.5 L484.5,315.5 L485.0,315.7 L485.5,316.2 L486.0,316.2 L486.5,316.2 L487.0,315.9 L487.5,315.9 L488.0,316.2 L488.5,316.1 L489.0,316.0 L489.5,315.8 L490.0,315.8 L490.5,315.9 L491.0,316.4 L491.5,316.5 L492.0,316.0 L492.5,316.4 L493.0,316.5 L493.5,316.2 L494.0,316.4 L494.5,316.7 L495.0,316.2 L495.5,316.7 L496.0,316.3 L496.5,316.4 L497.0,316.5 L497.5,316.2 L498.0,316.7 L498.5,316.8 L499.0,316.7 L499.5,316.8 L500.0,317.0 L500.5,316.9 L501.0,316.8 L501.5,317.0 L502.0,317.1 L502.5,317.0 L503.0,316.7 L503.5,317.1 L504.0,316.8 L504.5,317.1 L505.0,317.1 L505.5,316.8 L506.0,316.8 L506.5,316.8 L507.0,317.0 L507.5,316.7 L508.0,317.3 L508.5,317.5 L509.0,317.2 L509.5,317.0 L510.0,316.9 L510.5,317.3 L511.0,317.4 L511.5,317.4 L512.0,317.5 L512.5,317.1 L513.0,317.1 L513.5,317.3 L514.0,317.2 L514.5,317.4 L515.0,317.4 L515.5,317.4 L516.0,317.2 L516.5,317.3 L517.0,317.8 L517.5,317.4 L518.0,317.6 L518.5,317.4 L519.0,318.2 L519.5,317.5 L520.0,317.7 L520.5,317.3 L521.0,318.3 L521.5,317.3 L522.0,317.7 L522.5,317.5 L523.0,317.9 L523.5,317.5 L524.0,317.7 L524.5,317.4 L525.0,317.6 L525.5,317.7 L526.0,318.2 L526.5,317.4 L527.0,317.8 L527.5,317.8 L528.0,317.6 L528.5,317.7 L529.0,317.9 L529.5,317.8 L530.0,317.8 L530.5,317.6 L531.0,317.7 L531.5,318.0 L532.0,317.7 L532.5,317.9 L533.0,318.1 L533.5,318.1 L534.0,318.1 L534.5,318.1 L535.0,317.7 L535.5,318.2 L536.0,318.3 L536.5,318.4 L537.0,318.1 L537.5,318.2 L538.0,318.0 L538.5,317.8 L539.0,317.8 L539.5,317.9 L540.0,318.1 L540.5,318.0 L541.0,317.7 L541.5,317.8 L542.0,317.9 L542.5,318.0 L543.0,318.3 L543.5,318.0 L544.0,318.4 L544.5,317.9 L545.0,318.1 L545.5,318.6 L546.0,318.2 L546.5,318.3 L547.0,318.4 L547.5,318.1 L548.0,318.1 L548.5,318.1 L549.0,318.1 L549.5,318.1 L550.0,318.0 L550.5,318.2 L551.0,317.9 L551.5,318.1 L552.0,318.1 L552.5,318.1 L553.0,318.1 L553.5,317.9 L554.0,317.9 L554.5,318.1 L555.0,318.2 L555.5,318.4 L556.0,318.2 L556.5,318.1 L557.0,318.4 L557.5,318.4 L558.0,318.5 L558.5,318.6 L559.0,318.7 L559.5,317.9 L560.0,318.1 L560.5,318.2 L561.0,318.4 L561.5,318.3 L562.0,318.3 L562.5,318.4 L563.0,318.1 L563.5,318.2 L564.0,318.4 L564.5,318.0 L565.0,318.5 L565.5,318.0 L566.0,318.1 L566.5,318.3 L567.0,317.8 L567.5,318.2 L568.0,318.2 L568.5,318.4 L569.0,318.9 L569.5,318.3 L570.0,318.0 L570.5,318.2 L571.0,318.3 L571.5,318.1 L572.0,318.3 L572.5,318.7 L573.0,318.4 L573.5,318.1 L574.0,318.1 L574.5,318.0 L575.0,318.3 L575.5,318.4 L576.0,318.6 L576.5,318.1 L577.0,318.0 L577.5,318.4 L578.0,318.5 L578.5,318.4 L579.0,318.5 L579.5,318.4 L580.0,318.5 L580.5,318.4 L581.0,318.4 L581.5,318.1 L582.0,318.6 L582.5,318.4 L583.0,318.1 L583.5,318.2 L584.0,318.2 L584.5,318.1 L585.0,318.2 L585.5,318.2 L586.0,317.9 L586.5,318.6 L587.0,318.3 L587.5,318.7 L588.0,318.4 L588.5,318.8 L589.0,318.5 L589.5,318.9 L590.0,318.7 L590.5,318.6 L591.0,318.5 L591.5,318.6 L592.0,318.8 L592.5,318.1 L593.0,318.5 L593.5,318.3 L594.0,318.3 L594.5,318.6 L595.0,318.7 L595.5,318.4 L596.0,318.6 L596.5,318.3 L597.0,318.3 L597.5,318.4 L598.0,318.5 L598.5,318.4 L599.0,318.2 L599.5,318.6 L600.0,318.8 L600.5,318.5 L601.0,318.7 L601.5,318.4 L602.0,318.6 L602.5,318.4 L603.0,318.6 L603.5,318.9 L604.0,318.7 L604.5,318.5 L605.0,318.8 L605.5,318.3 L606.0,318.9 L606.5,318.8 L607.0,318.5 L607.5,318.6 L608.0,318.5 L608.5,319.0 L609.0,318.7 L609.5,318.4 L610.0,318.5 L610.5,318.6 L611.0,318.4 L611.5,318.6 L612.0,318.6 L612.5,318.2 L613.0,318.7 L613.5,318.9 L614.0,318.5 L614.5,318.5 L615.0,318.4 L615.5,318.3 L616.0,318.4 L616.5,318.2 L617.0,318.1 L617.5,318.5 L618.0,318.3 L618.5,318.5 L619.0,318.5 L619.5,318.6 L620.0,318.6 L620.5,318.6 L621.0,318.5 L621.5,318.7 L622.0,318.5 L622.5,318.6 L623.0,318.4 L623.5,318.5 L624.0,318.2 L624.5,318.8 L625.0,318.6 L625.5,318.4 L626.0,318.2 L626.5,318.4 L627.0,318.7 L627.5,318.4 L628.0,318.7 L628.5,318.4 L629.0,318.4 L629.5,318.3 L630.0,318.6 L630.5,318.7 L631.0,318.6 L631.5,318.7 L632.0,318.3 L632.5,318.6 L633.0,318.4 L633.5,318.4 L634.0,318.7 L634.5,318.4 L635.0,318.6 L635.5,318.5 L636.0,318.8 L636.5,318.4 L637.0,318.6 L637.5,318.8 L638.0,318.7 L638.5,318.5 L639.0,318.1 L639.5,318.6 L640.0,318.2 L640.5,318.4 L641.0,318.1 L641.5,318.5 L642.0,318.5 L642.5,318.6 L643.0,318.5 L643.5,318.6 L644.0,318.5 L644.5,318.6 L645.0,318.7" fill="none" stroke="#000" stroke-width="2.15" stroke-linejoin="round" stroke-linecap="round"/>
<path d="M49.0,408.2 L49.5,407.3 L50.0,407.0 L50.5,405.7 L51.0,407.0 L51.5,407.1 L52.0,407.4 L52.5,407.4 L53.0,407.8 L53.5,407.6 L54.0,407.2 L54.5,408.9 L55.0,409.1 L55.5,409.7 L56.0,408.5 L56.5,408.2 L57.0,408.0 L57.5,407.4 L58.0,409.3 L58.5,407.9 L59.0,407.8 L59.5,408.5 L60.0,409.7 L60.5,409.0 L61.0,408.2 L61.5,408.7 L62.0,409.8 L62.5,409.4 L63.0,409.0 L63.5,409.6 L64.0,410.3 L64.5,411.3 L65.0,408.9 L65.5,409.3 L66.0,409.4 L66.5,408.2 L67.0,409.5 L67.5,409.3 L68.0,411.1 L68.5,410.3 L69.0,409.2 L69.5,411.0 L70.0,410.2 L70.5,409.2 L71.0,410.3 L71.5,410.4 L72.0,410.5 L72.5,411.0 L73.0,409.3 L73.5,411.3 L74.0,412.3 L74.5,412.8 L75.0,412.9 L75.5,412.9 L76.0,412.8 L76.5,410.9 L77.0,412.7 L77.5,410.8 L78.0,411.7 L78.5,410.9 L79.0,413.0 L79.5,413.4 L80.0,412.5 L80.5,414.4 L81.0,412.7 L81.5,413.3 L82.0,413.7 L82.5,412.9 L83.0,414.2 L83.5,414.9 L84.0,412.9 L84.5,414.1 L85.0,413.1 L85.5,414.8 L86.0,413.9 L86.5,413.8 L87.0,413.9 L87.5,413.3 L88.0,412.8 L88.5,414.8 L89.0,412.9 L89.5,413.9 L90.0,414.1 L90.5,412.9 L91.0,413.8 L91.5,414.7 L92.0,414.3 L92.5,413.5 L93.0,411.8 L93.5,413.5 L94.0,413.9 L94.5,414.3 L95.0,414.1 L95.5,415.5 L96.0,414.5 L96.5,414.8 L97.0,415.9 L97.5,415.2 L98.0,415.6 L98.5,417.9 L99.0,416.8 L99.5,415.2 L100.0,415.6 L100.5,416.4 L101.0,417.0 L101.5,416.1 L102.0,416.0 L102.5,416.1 L103.0,416.9 L103.5,417.0 L104.0,416.9 L104.5,417.4 L105.0,417.2 L105.5,418.2 L106.0,417.5 L106.5,418.3 L107.0,418.5 L107.5,418.1 L108.0,417.3 L108.5,418.7 L109.0,417.3 L109.5,418.2 L110.0,417.3 L110.5,416.4 L111.0,417.7 L111.5,418.0 L112.0,417.9 L112.5,418.2 L113.0,417.8 L113.5,417.9 L114.0,418.3 L114.5,419.8 L115.0,419.3 L115.5,418.5 L116.0,419.4 L116.5,418.9 L117.0,419.1 L117.5,419.9 L118.0,418.7 L118.5,417.9 L119.0,418.6 L119.5,419.2 L120.0,419.2 L120.5,420.1 L121.0,418.9 L121.5,420.2 L122.0,420.3 L122.5,420.4 L123.0,421.5 L123.5,421.4 L124.0,420.6 L124.5,421.9 L125.0,420.5 L125.5,421.5 L126.0,421.0 L126.5,421.4 L127.0,420.4 L127.5,420.9 L128.0,420.6 L128.5,421.5 L129.0,420.6 L129.5,421.5 L130.0,421.1 L130.5,420.9 L131.0,423.8 L131.5,421.9 L132.0,420.9 L132.5,423.1 L133.0,421.4 L133.5,422.4 L134.0,422.8 L134.5,421.8 L135.0,422.0 L135.5,421.8 L136.0,422.2 L136.5,420.9 L137.0,421.1 L137.5,421.9 L138.0,422.6 L138.5,422.3 L139.0,423.1 L139.5,422.3 L140.0,421.6 L140.5,421.6 L141.0,420.7 L141.5,421.6 L142.0,421.5 L142.5,422.9 L143.0,423.0 L143.5,422.3 L144.0,422.5 L144.5,421.9 L145.0,423.0 L145.5,423.4 L146.0,423.6 L146.5,423.0 L147.0,425.1 L147.5,424.5 L148.0,423.5 L148.5,423.3 L149.0,423.5 L149.5,424.0 L150.0,423.8 L150.5,424.1 L151.0,424.3 L151.5,424.5 L152.0,424.2 L152.5,423.2 L153.0,423.4 L153.5,422.4 L154.0,421.6 L154.5,422.6 L155.0,419.7 L155.5,419.5 L156.0,415.2 L156.5,412.4 L157.0,409.3 L157.5,404.6 L158.0,401.6 L158.5,399.0 L159.0,398.5 L159.5,400.4 L160.0,403.2 L160.5,408.5 L161.0,411.1 L161.5,415.7 L162.0,415.2 L162.5,418.8 L163.0,421.0 L163.5,421.6 L164.0,423.5 L164.5,423.4 L165.0,423.2 L165.5,424.0 L166.0,426.1 L166.5,424.3 L167.0,425.1 L167.5,424.6 L168.0,424.8 L168.5,423.9 L169.0,424.9 L169.5,426.9 L170.0,426.0 L170.5,425.8 L171.0,426.4 L171.5,426.9 L172.0,426.1 L172.5,427.3 L173.0,426.5 L173.5,425.8 L174.0,426.8 L174.5,423.7 L175.0,425.0 L175.5,425.8 L176.0,425.0 L176.5,425.6 L177.0,425.0 L177.5,425.1 L178.0,427.5 L178.5,426.4 L179.0,425.9 L179.5,426.9 L180.0,426.1 L180.5,426.9 L181.0,426.4 L181.5,427.3 L182.0,425.2 L182.5,427.0 L183.0,426.4 L183.5,425.7 L184.0,427.3 L184.5,425.9 L185.0,427.9 L185.5,427.3 L186.0,428.2 L186.5,427.7 L187.0,428.4 L187.5,426.7 L188.0,428.2 L188.5,427.8 L189.0,428.6 L189.5,428.4 L190.0,428.6 L190.5,427.2 L191.0,429.1 L191.5,429.2 L192.0,427.2 L192.5,427.3 L193.0,427.5 L193.5,428.1 L194.0,428.5 L194.5,426.4 L195.0,426.6 L195.5,426.2 L196.0,426.3 L196.5,425.9 L197.0,427.3 L197.5,426.1 L198.0,428.2 L198.5,427.7 L199.0,426.6 L199.5,426.5 L200.0,426.7 L200.5,427.9 L201.0,426.5 L201.5,426.1 L202.0,427.0 L202.5,427.3 L203.0,426.3 L203.5,427.6 L204.0,426.9 L204.5,427.2 L205.0,426.3 L205.5,426.3 L206.0,425.8 L206.5,424.0 L207.0,424.9 L207.5,423.1 L208.0,424.6 L208.5,423.6 L209.0,426.3 L209.5,425.7 L210.0,426.4 L210.5,426.6 L211.0,425.4 L211.5,425.0 L212.0,426.4 L212.5,427.4 L213.0,427.0 L213.5,427.6 L214.0,427.6 L214.5,426.3 L215.0,427.3 L215.5,428.3 L216.0,426.7 L216.5,425.9 L217.0,427.0 L217.5,426.8 L218.0,427.5 L218.5,426.8 L219.0,427.5 L219.5,425.7 L220.0,427.9 L220.5,428.3 L221.0,428.1 L221.5,426.1 L222.0,427.0 L222.5,424.6 L223.0,426.5 L223.5,426.0 L224.0,425.4 L224.5,426.3 L225.0,426.0 L225.5,426.2 L226.0,425.4 L226.5,425.2 L227.0,423.3 L227.5,423.8 L228.0,423.8 L228.5,424.3 L229.0,424.0 L229.5,424.5 L230.0,422.5 L230.5,422.8 L231.0,423.1 L231.5,422.4 L232.0,422.3 L232.5,421.3 L233.0,421.9 L233.5,419.9 L234.0,420.2 L234.5,418.8 L235.0,418.5 L235.5,415.5 L236.0,415.8 L236.5,413.8 L237.0,412.7 L237.5,411.8 L238.0,408.2 L238.5,405.8 L239.0,403.5 L239.5,401.7 L240.0,396.7 L240.5,394.3 L241.0,389.1 L241.5,384.3 L242.0,378.6 L242.5,370.9 L243.0,355.9 L243.5,317.6 L244.0,356.3 L244.5,370.8 L245.0,377.4 L245.5,385.2 L246.0,390.7 L246.5,395.2 L247.0,399.5 L247.5,401.5 L248.0,404.0 L248.5,405.8 L249.0,409.0 L249.5,411.5 L250.0,413.7 L250.5,413.4 L251.0,415.8 L251.5,417.5 L252.0,419.1 L252.5,419.0 L253.0,419.2 L253.5,420.0 L254.0,421.0 L254.5,421.4 L255.0,423.3 L255.5,423.8 L256.0,424.2 L256.5,425.3 L257.0,424.3 L257.5,425.5 L258.0,425.2 L258.5,425.7 L259.0,426.6 L259.5,426.1 L260.0,425.2 L260.5,426.4 L261.0,426.4 L261.5,426.3 L262.0,426.7 L262.5,428.2 L263.0,428.7 L263.5,427.4 L264.0,428.8 L264.5,428.9 L265.0,427.4 L265.5,427.9 L266.0,427.9 L266.5,428.3 L267.0,426.6 L267.5,427.7 L268.0,428.9 L268.5,428.8 L269.0,429.4 L269.5,427.9 L270.0,429.6 L270.5,428.8 L271.0,427.4 L271.5,429.2 L272.0,428.9 L272.5,429.3 L273.0,429.0 L273.5,429.9 L274.0,429.2 L274.5,428.7 L275.0,429.6 L275.5,429.2 L276.0,428.9 L276.5,429.6 L277.0,428.5 L277.5,428.4 L278.0,428.4 L278.5,427.9 L279.0,428.7 L279.5,430.6 L280.0,428.8 L280.5,429.2 L281.0,428.7 L281.5,429.5 L282.0,431.0 L282.5,430.4 L283.0,429.3 L283.5,429.9 L284.0,429.1 L284.5,429.3 L285.0,429.4 L285.5,429.6 L286.0,430.1 L286.5,430.1 L287.0,430.3 L287.5,430.0 L288.0,429.1 L288.5,429.9 L289.0,429.1 L289.5,430.1 L290.0,429.5 L290.5,429.5 L291.0,428.9 L291.5,428.0 L292.0,430.1 L292.5,430.0 L293.0,428.0 L293.5,429.5 L294.0,430.3 L294.5,429.0 L295.0,430.9 L295.5,429.2 L296.0,428.8 L296.5,430.3 L297.0,429.8 L297.5,429.2 L298.0,430.3 L298.5,428.4 L299.0,430.9 L299.5,429.3 L300.0,430.3 L300.5,429.7 L301.0,430.0 L301.5,430.4 L302.0,429.3 L302.5,430.1 L303.0,429.3 L303.5,429.0 L304.0,429.1 L304.5,428.4 L305.0,428.3 L305.5,429.5 L306.0,428.5 L306.5,429.3 L307.0,428.7 L307.5,427.5 L308.0,426.6 L308.5,427.0 L309.0,427.3 L309.5,426.4 L310.0,425.0 L310.5,425.4 L311.0,422.3 L311.5,421.1 L312.0,420.5 L312.5,420.4 L313.0,418.1 L313.5,416.6 L314.0,418.1 L314.5,419.6 L315.0,421.1 L315.5,421.9 L316.0,423.3 L316.5,424.9 L317.0,425.8 L317.5,427.2 L318.0,428.0 L318.5,426.6 L319.0,426.9 L319.5,427.4 L320.0,427.5 L320.5,428.0 L321.0,428.1 L321.5,428.2 L322.0,428.9 L322.5,428.4 L323.0,428.3 L323.5,428.2 L324.0,428.6 L324.5,428.6 L325.0,428.1 L325.5,429.6 L326.0,429.1 L326.5,428.9 L327.0,428.2 L327.5,427.5 L328.0,427.7 L328.5,429.2 L329.0,426.8 L329.5,428.2 L330.0,428.5 L330.5,428.2 L331.0,427.8 L331.5,428.4 L332.0,426.9 L332.5,427.9 L333.0,428.1 L333.5,426.4 L334.0,426.1 L334.5,426.6 L335.0,426.8 L335.5,426.7 L336.0,426.2 L336.5,425.6 L337.0,425.2 L337.5,426.1 L338.0,425.8 L338.5,424.8 L339.0,425.2 L339.5,425.2 L340.0,425.6 L340.5,423.9 L341.0,424.5 L341.5,423.0 L342.0,423.0 L342.5,422.9 L343.0,423.2 L343.5,423.7 L344.0,421.5 L344.5,420.8 L345.0,420.6 L345.5,418.3 L346.0,419.0 L346.5,417.4 L347.0,418.3 L347.5,417.5 L348.0,416.2 L348.5,414.3 L349.0,414.9 L349.5,412.9 L350.0,411.5 L350.5,410.0 L351.0,406.6 L351.5,405.8 L352.0,403.8 L352.5,400.7 L353.0,398.1 L353.5,395.0 L354.0,394.1 L354.5,393.1 L355.0,393.7 L355.5,394.4 L356.0,396.7 L356.5,399.0 L357.0,400.7 L357.5,403.1 L358.0,405.6 L358.5,407.9 L359.0,409.3 L359.5,410.6 L360.0,412.3 L360.5,414.0 L361.0,415.3 L361.5,416.6 L362.0,416.9 L362.5,418.1 L363.0,418.3 L363.5,420.4 L364.0,420.3 L364.5,421.2 L365.0,421.2 L365.5,422.0 L366.0,422.5 L366.5,424.3 L367.0,424.3 L367.5,424.4 L368.0,424.3 L368.5,424.9 L369.0,425.9 L369.5,426.6 L370.0,425.6 L370.5,426.0 L371.0,426.6 L371.5,426.4 L372.0,426.3 L372.5,427.4 L373.0,427.8 L373.5,427.0 L374.0,428.3 L374.5,428.6 L375.0,428.9 L375.5,428.5 L376.0,430.1 L376.5,429.1 L377.0,428.7 L377.5,429.8 L378.0,428.7 L378.5,429.9 L379.0,429.0 L379.5,430.0 L380.0,429.3 L380.5,430.2 L381.0,430.4 L381.5,430.3 L382.0,430.1 L382.5,430.7 L383.0,429.3 L383.5,430.5 L384.0,430.6 L384.5,430.6 L385.0,430.8 L385.5,432.1 L386.0,430.6 L386.5,431.0 L387.0,430.7 L387.5,431.3 L388.0,429.7 L388.5,431.5 L389.0,430.5 L389.5,429.8 L390.0,430.4 L390.5,430.7 L391.0,430.8 L391.5,430.6 L392.0,431.1 L392.5,430.7 L393.0,430.6 L393.5,429.8 L394.0,430.8 L394.5,431.2 L395.0,430.6 L395.5,430.0 L396.0,430.4 L396.5,431.7 L397.0,430.8 L397.5,430.7 L398.0,430.6 L398.5,431.4 L399.0,430.7 L399.5,430.8 L400.0,430.6 L400.5,431.4 L401.0,431.9 L401.5,431.4 L402.0,432.1 L402.5,431.8 L403.0,431.7 L403.5,431.8 L404.0,431.7 L404.5,432.2 L405.0,431.9 L405.5,431.4 L406.0,431.7 L406.5,431.5 L407.0,431.7 L407.5,431.8 L408.0,431.7 L408.5,431.0 L409.0,431.5 L409.5,431.9 L410.0,430.9 L410.5,431.8 L411.0,431.2 L411.5,431.0 L412.0,430.2 L412.5,431.3 L413.0,430.5 L413.5,430.7 L414.0,431.0 L414.5,430.7 L415.0,431.0 L415.5,431.1 L416.0,431.6 L416.5,432.0 L417.0,432.0 L417.5,432.1 L418.0,432.0 L418.5,432.5 L419.0,432.1 L419.5,433.1 L420.0,432.5 L420.5,431.9 L421.0,432.5 L421.5,433.6 L422.0,432.5 L422.5,433.0 L423.0,433.2 L423.5,432.7 L424.0,433.5 L424.5,433.7 L425.0,432.8 L425.5,433.5 L426.0,432.8 L426.5,432.9 L427.0,433.2 L427.5,433.3 L428.0,433.1 L428.5,433.6 L429.0,432.7 L429.5,433.0 L430.0,433.0 L430.5,433.7 L431.0,433.7 L431.5,433.6 L432.0,432.9 L432.5,433.4 L433.0,433.7 L433.5,433.1 L434.0,433.5 L434.5,433.9 L435.0,433.7 L435.5,433.7 L436.0,433.9 L436.5,433.9 L437.0,434.0 L437.5,433.8 L438.0,433.7 L438.5,433.9 L439.0,434.0 L439.5,435.0 L440.0,434.3 L440.5,434.1 L441.0,434.0 L441.5,434.0 L442.0,434.2 L442.5,434.4 L443.0,434.2 L443.5,434.6 L444.0,434.1 L444.5,434.7 L445.0,434.9 L445.5,434.4 L446.0,434.8 L446.5,434.8 L447.0,434.5 L447.5,434.6 L448.0,434.0 L448.5,435.0 L449.0,434.2 L449.5,434.1 L450.0,434.7 L450.5,434.1 L451.0,434.9 L451.5,434.8 L452.0,435.0 L452.5,434.9 L453.0,434.7 L453.5,434.6 L454.0,435.8 L454.5,435.2 L455.0,435.2 L455.5,435.7 L456.0,435.3 L456.5,435.3 L457.0,435.3 L457.5,435.4 L458.0,435.1 L458.5,435.1 L459.0,435.6 L459.5,435.4 L460.0,434.5 L460.5,434.7 L461.0,435.5 L461.5,435.4 L462.0,435.3 L462.5,435.6 L463.0,434.9 L463.5,435.9 L464.0,435.6 L464.5,435.6 L465.0,435.6 L465.5,435.7 L466.0,435.3 L466.5,435.2 L467.0,435.7 L467.5,435.5 L468.0,435.1 L468.5,435.7 L469.0,435.7 L469.5,435.8 L470.0,435.4 L470.5,435.5 L471.0,435.4 L471.5,435.2 L472.0,435.5 L472.5,435.5 L473.0,435.3 L473.5,435.9 L474.0,435.1 L474.5,435.3 L475.0,435.5 L475.5,436.0 L476.0,435.6 L476.5,435.7 L477.0,435.7 L477.5,435.9 L478.0,435.8 L478.5,436.4 L479.0,436.3 L479.5,436.3 L480.0,435.9 L480.5,436.7 L481.0,435.7 L481.5,435.5 L482.0,435.9 L482.5,436.1 L483.0,436.3 L483.5,435.9 L484.0,436.4 L484.5,436.7 L485.0,436.1 L485.5,436.3 L486.0,436.2 L486.5,436.7 L487.0,436.8 L487.5,436.8 L488.0,436.9 L488.5,437.0 L489.0,436.7 L489.5,437.0 L490.0,436.5 L490.5,436.6 L491.0,436.8 L491.5,436.6 L492.0,436.9 L492.5,437.2 L493.0,437.0 L493.5,436.8 L494.0,436.9 L494.5,437.3 L495.0,436.9 L495.5,437.1 L496.0,437.1 L496.5,437.3 L497.0,437.4 L497.5,437.1 L498.0,436.9 L498.5,437.5 L499.0,437.3 L499.5,437.3 L500.0,437.1 L500.5,437.3 L501.0,437.4 L501.5,437.5 L502.0,437.1 L502.5,437.2 L503.0,437.3 L503.5,437.4 L504.0,437.6 L504.5,437.3 L505.0,436.9 L505.5,437.6 L506.0,437.5 L506.5,437.5 L507.0,437.7 L507.5,437.7 L508.0,437.5 L508.5,437.7 L509.0,437.6 L509.5,437.9 L510.0,437.7 L510.5,437.8 L511.0,437.7 L511.5,437.6 L512.0,437.3 L512.5,437.5 L513.0,437.1 L513.5,437.7 L514.0,437.8 L514.5,438.0 L515.0,437.7 L515.5,437.6 L516.0,437.4 L516.5,438.2 L517.0,437.5 L517.5,438.0 L518.0,437.3 L518.5,437.8 L519.0,438.1 L519.5,438.1 L520.0,438.0 L520.5,437.8 L521.0,437.8 L521.5,438.2 L522.0,438.1 L522.5,438.0 L523.0,438.2 L523.5,438.0 L524.0,438.4 L524.5,438.4 L525.0,438.0 L525.5,438.2 L526.0,438.4 L526.5,438.0 L527.0,438.6 L527.5,438.3 L528.0,438.0 L528.5,438.2 L529.0,438.4 L529.5,437.9 L530.0,438.3 L530.5,438.1 L531.0,438.2 L531.5,438.5 L532.0,438.3 L532.5,438.2 L533.0,438.2 L533.5,438.5 L534.0,438.6 L534.5,438.4 L535.0,438.4 L535.5,438.4 L536.0,438.7 L536.5,438.6 L537.0,438.4 L537.5,438.4 L538.0,438.8 L538.5,438.5 L539.0,438.6 L539.5,438.7 L540.0,438.5 L540.5,438.9 L541.0,438.2 L541.5,438.9 L542.0,438.7 L542.5,438.5 L543.0,438.8 L543.5,438.4 L544.0,438.9 L544.5,439.0 L545.0,438.7 L545.5,438.8 L546.0,439.1 L546.5,438.7 L547.0,438.8 L547.5,438.9 L548.0,439.1 L548.5,438.8 L549.0,438.9 L549.5,439.1 L550.0,438.5 L550.5,438.9 L551.0,438.6 L551.5,438.7 L552.0,439.6 L552.5,439.3 L553.0,439.6 L553.5,439.2 L554.0,439.4 L554.5,439.2 L555.0,439.2 L555.5,439.3 L556.0,439.4 L556.5,439.5 L557.0,439.1 L557.5,439.2 L558.0,439.0 L558.5,439.1 L559.0,438.8 L559.5,439.3 L560.0,439.0 L560.5,439.0 L561.0,439.0 L561.5,439.3 L562.0,439.3 L562.5,439.3 L563.0,439.3 L563.5,439.3 L564.0,439.5 L564.5,439.4 L565.0,439.6 L565.5,439.7 L566.0,439.5 L566.5,439.0 L567.0,439.6 L567.5,439.7 L568.0,439.2 L568.5,439.2 L569.0,438.8 L569.5,439.4 L570.0,439.0 L570.5,439.6 L571.0,438.9 L571.5,439.5 L572.0,439.6 L572.5,439.4 L573.0,439.4 L573.5,439.7 L574.0,439.4 L574.5,439.5 L575.0,439.6 L575.5,439.5 L576.0,439.5 L576.5,439.7 L577.0,439.4 L577.5,439.4 L578.0,439.3 L578.5,439.6 L579.0,439.2 L579.5,439.6 L580.0,438.8 L580.5,439.2 L581.0,439.1 L581.5,439.6 L582.0,439.6 L582.5,439.3 L583.0,439.5 L583.5,439.9 L584.0,439.6 L584.5,439.8 L585.0,439.4 L585.5,439.5 L586.0,440.0 L586.5,440.3 L587.0,439.7 L587.5,439.8 L588.0,439.5 L588.5,439.9 L589.0,439.5 L589.5,439.4 L590.0,439.1 L590.5,439.4 L591.0,439.5 L591.5,439.7 L592.0,439.3 L592.5,439.7 L593.0,439.4 L593.5,439.5 L594.0,439.4 L594.5,439.2 L595.0,439.4 L595.5,439.9 L596.0,439.4 L596.5,439.4 L597.0,439.8 L597.5,439.2 L598.0,439.7 L598.5,439.5 L599.0,439.8 L599.5,439.9 L600.0,439.7 L600.5,439.8 L601.0,440.0 L601.5,440.1 L602.0,439.8 L602.5,439.9 L603.0,439.7 L603.5,440.2 L604.0,439.7 L604.5,440.0 L605.0,440.3 L605.5,440.1 L606.0,439.8 L606.5,439.7 L607.0,439.7 L607.5,439.9 L608.0,439.8 L608.5,439.8 L609.0,440.3 L609.5,439.5 L610.0,439.6 L610.5,439.6 L611.0,439.9 L611.5,439.8 L612.0,439.7 L612.5,439.9 L613.0,439.8 L613.5,439.7 L614.0,439.4 L614.5,440.0 L615.0,439.6 L615.5,439.7 L616.0,439.8 L616.5,439.6 L617.0,439.6 L617.5,439.8 L618.0,439.7 L618.5,439.7 L619.0,439.5 L619.5,439.7 L620.0,439.5 L620.5,439.6 L621.0,439.7 L621.5,439.7 L622.0,439.5 L622.5,439.7 L623.0,439.8 L623.5,440.0 L624.0,439.8 L624.5,439.6 L625.0,439.5 L625.5,440.0 L626.0,439.4 L626.5,439.4 L627.0,439.6 L627.5,439.3 L628.0,439.8 L628.5,439.7 L629.0,439.7 L629.5,439.4 L630.0,439.5 L630.5,439.7 L631.0,439.6 L631.5,439.9 L632.0,439.6 L632.5,439.0 L633.0,439.4 L633.5,439.3 L634.0,439.7 L634.5,439.5 L635.0,439.7 L635.5,439.7 L636.0,439.9 L636.5,440.0 L637.0,439.6 L637.5,439.4 L638.0,439.6 L638.5,440.0 L639.0,439.8 L639.5,439.7 L640.0,439.5 L640.5,439.8 L641.0,439.7 L641.5,439.6 L642.0,439.5 L642.5,439.5 L643.0,439.5 L643.5,439.5 L644.0,439.6 L644.5,439.0 L645.0,438.9" fill="none" stroke="#000" stroke-width="2.15" stroke-linejoin="round" stroke-linecap="round"/>
<path d="M49.0,509.9 L49.5,510.4 L50.0,509.5 L50.5,510.4 L51.0,509.7 L51.5,508.8 L52.0,509.2 L52.5,510.1 L53.0,509.8 L53.5,509.0 L54.0,510.4 L54.5,510.0 L55.0,510.7 L55.5,510.8 L56.0,509.9 L56.5,511.7 L57.0,511.1 L57.5,512.8 L58.0,512.0 L58.5,511.4 L59.0,511.1 L59.5,511.9 L60.0,511.9 L60.5,511.0 L61.0,513.3 L61.5,512.2 L62.0,513.3 L62.5,511.2 L63.0,513.3 L63.5,511.1 L64.0,511.7 L64.5,512.7 L65.0,512.5 L65.5,511.0 L66.0,512.0 L66.5,513.6 L67.0,515.0 L67.5,514.2 L68.0,513.1 L68.5,513.9 L69.0,512.6 L69.5,514.0 L70.0,513.0 L70.5,513.9 L71.0,513.4 L71.5,513.7 L72.0,513.1 L72.5,514.2 L73.0,513.3 L73.5,514.2 L74.0,514.1 L74.5,512.1 L75.0,513.5 L75.5,514.0 L76.0,513.4 L76.5,514.2 L77.0,513.6 L77.5,515.2 L78.0,515.3 L78.5,515.1 L79.0,516.8 L79.5,515.5 L80.0,515.5 L80.5,515.2 L81.0,515.9 L81.5,514.6 L82.0,516.1 L82.5,514.6 L83.0,515.4 L83.5,516.8 L84.0,516.1 L84.5,515.4 L85.0,516.3 L85.5,515.3 L86.0,515.9 L86.5,515.1 L87.0,514.6 L87.5,515.2 L88.0,515.6 L88.5,514.8 L89.0,514.6 L89.5,515.1 L90.0,514.1 L90.5,515.5 L91.0,515.7 L91.5,518.2 L92.0,516.8 L92.5,516.2 L93.0,518.2 L93.5,517.1 L94.0,517.1 L94.5,517.3 L95.0,517.5 L95.5,516.9 L96.0,518.0 L96.5,517.7 L97.0,516.9 L97.5,517.4 L98.0,516.8 L98.5,517.8 L99.0,518.2 L99.5,518.2 L100.0,518.6 L100.5,518.2 L101.0,519.5 L101.5,518.3 L102.0,518.5 L102.5,518.5 L103.0,518.9 L103.5,518.6 L104.0,520.3 L104.5,518.9 L105.0,517.4 L105.5,518.2 L106.0,517.4 L106.5,518.8 L107.0,519.6 L107.5,518.4 L108.0,519.3 L108.5,519.1 L109.0,519.6 L109.5,520.7 L110.0,519.5 L110.5,519.1 L111.0,520.9 L111.5,520.6 L112.0,520.7 L112.5,521.0 L113.0,519.4 L113.5,519.0 L114.0,521.5 L114.5,520.3 L115.0,519.9 L115.5,519.8 L116.0,521.3 L116.5,520.8 L117.0,520.8 L117.5,521.4 L118.0,520.1 L118.5,519.6 L119.0,519.9 L119.5,519.9 L120.0,520.6 L120.5,520.4 L121.0,521.2 L121.5,521.3 L122.0,521.7 L122.5,522.1 L123.0,522.8 L123.5,522.8 L124.0,521.9 L124.5,521.9 L125.0,521.2 L125.5,522.1 L126.0,522.3 L126.5,520.9 L127.0,522.2 L127.5,521.5 L128.0,522.2 L128.5,522.6 L129.0,522.1 L129.5,523.5 L130.0,522.0 L130.5,522.7 L131.0,523.1 L131.5,522.4 L132.0,523.6 L132.5,522.1 L133.0,523.4 L133.5,522.6 L134.0,523.6 L134.5,524.5 L135.0,525.7 L135.5,525.2 L136.0,525.9 L136.5,524.8 L137.0,526.5 L137.5,524.8 L138.0,525.1 L138.5,524.7 L139.0,525.7 L139.5,526.4 L140.0,525.2 L140.5,525.2 L141.0,525.4 L141.5,525.4 L142.0,525.2 L142.5,524.6 L143.0,526.6 L143.5,524.4 L144.0,525.5 L144.5,526.6 L145.0,527.2 L145.5,526.2 L146.0,526.5 L146.5,526.8 L147.0,526.9 L147.5,527.4 L148.0,526.5 L148.5,526.0 L149.0,526.3 L149.5,526.9 L150.0,528.1 L150.5,528.2 L151.0,527.1 L151.5,526.3 L152.0,526.3 L152.5,528.9 L153.0,526.9 L153.5,527.5 L154.0,528.2 L154.5,525.8 L155.0,525.4 L155.5,523.5 L156.0,521.5 L156.5,520.9 L157.0,518.6 L157.5,514.2 L158.0,514.0 L158.5,511.6 L159.0,511.7 L159.5,513.0 L160.0,514.3 L160.5,517.7 L161.0,519.8 L161.5,524.0 L162.0,526.0 L162.5,526.0 L163.0,526.3 L163.5,528.7 L164.0,528.3 L164.5,530.1 L165.0,530.3 L165.5,530.2 L166.0,528.9 L166.5,528.5 L167.0,528.9 L167.5,529.6 L168.0,528.8 L168.5,530.2 L169.0,529.8 L169.5,529.4 L170.0,529.4 L170.5,530.2 L171.0,530.9 L171.5,528.6 L172.0,530.1 L172.5,529.9 L173.0,529.8 L173.5,530.0 L174.0,530.5 L174.5,531.8 L175.0,530.6 L175.5,530.4 L176.0,529.8 L176.5,531.1 L177.0,530.4 L177.5,530.7 L178.0,531.4 L178.5,530.7 L179.0,530.5 L179.5,531.0 L180.0,531.7 L180.5,531.1 L181.0,531.6 L181.5,531.6 L182.0,531.4 L182.5,532.0 L183.0,531.9 L183.5,532.9 L184.0,532.3 L184.5,530.9 L185.0,532.2 L185.5,532.9 L186.0,531.8 L186.5,531.8 L187.0,532.7 L187.5,531.4 L188.0,532.3 L188.5,532.4 L189.0,532.6 L189.5,531.1 L190.0,531.4 L190.5,533.3 L191.0,531.5 L191.5,532.0 L192.0,533.7 L192.5,531.7 L193.0,530.7 L193.5,534.3 L194.0,533.3 L194.5,532.7 L195.0,534.5 L195.5,532.7 L196.0,533.8 L196.5,533.0 L197.0,532.8 L197.5,533.3 L198.0,533.1 L198.5,533.3 L199.0,533.1 L199.5,532.2 L200.0,532.3 L200.5,533.9 L201.0,532.7 L201.5,532.6 L202.0,533.9 L202.5,534.4 L203.0,534.4 L203.5,533.3 L204.0,533.3 L204.5,534.2 L205.0,534.3 L205.5,532.7 L206.0,532.8 L206.5,532.7 L207.0,533.0 L207.5,531.5 L208.0,533.8 L208.5,531.6 L209.0,532.1 L209.5,533.5 L210.0,532.7 L210.5,533.3 L211.0,532.9 L211.5,533.7 L212.0,533.0 L212.5,533.7 L213.0,534.0 L213.5,533.4 L214.0,534.6 L214.5,534.3 L215.0,532.6 L215.5,534.8 L216.0,533.5 L216.5,534.3 L217.0,533.4 L217.5,533.7 L218.0,534.0 L218.5,535.3 L219.0,532.7 L219.5,533.5 L220.0,533.3 L220.5,534.4 L221.0,533.3 L221.5,533.6 L222.0,534.1 L222.5,533.8 L223.0,533.0 L223.5,533.3 L224.0,533.1 L224.5,533.4 L225.0,532.9 L225.5,533.4 L226.0,533.8 L226.5,533.1 L227.0,533.2 L227.5,533.5 L228.0,533.6 L228.5,532.1 L229.0,532.0 L229.5,533.2 L230.0,532.1 L230.5,531.1 L231.0,531.8 L231.5,532.3 L232.0,530.9 L232.5,530.6 L233.0,531.0 L233.5,531.9 L234.0,529.9 L234.5,530.4 L235.0,530.3 L235.5,529.2 L236.0,527.9 L236.5,527.5 L237.0,526.3 L237.5,525.6 L238.0,524.0 L238.5,522.4 L239.0,519.3 L239.5,519.3 L240.0,516.9 L240.5,512.8 L241.0,511.0 L241.5,507.7 L242.0,503.2 L242.5,496.1 L243.0,488.3 L243.5,464.7 L244.0,488.7 L244.5,496.5 L245.0,503.9 L245.5,508.5 L246.0,512.1 L246.5,514.5 L247.0,517.1 L247.5,519.7 L248.0,521.3 L248.5,522.1 L249.0,523.9 L249.5,525.4 L250.0,527.0 L250.5,527.1 L251.0,526.7 L251.5,527.4 L252.0,528.3 L252.5,529.0 L253.0,530.0 L253.5,528.5 L254.0,529.8 L254.5,529.6 L255.0,531.6 L255.5,531.8 L256.0,531.8 L256.5,532.5 L257.0,531.6 L257.5,532.5 L258.0,532.6 L258.5,532.4 L259.0,532.5 L259.5,533.2 L260.0,533.6 L260.5,532.3 L261.0,533.1 L261.5,533.8 L262.0,534.4 L262.5,533.0 L263.0,533.6 L263.5,533.9 L264.0,535.6 L264.5,533.8 L265.0,534.1 L265.5,534.6 L266.0,534.4 L266.5,534.6 L267.0,534.5 L267.5,534.7 L268.0,535.2 L268.5,534.9 L269.0,535.2 L269.5,535.4 L270.0,534.2 L270.5,535.1 L271.0,535.1 L271.5,535.8 L272.0,535.6 L272.5,536.2 L273.0,534.7 L273.5,535.0 L274.0,535.2 L274.5,534.8 L275.0,535.5 L275.5,535.4 L276.0,535.2 L276.5,537.4 L277.0,535.7 L277.5,536.9 L278.0,535.6 L278.5,536.2 L279.0,535.5 L279.5,535.9 L280.0,536.8 L280.5,537.3 L281.0,536.5 L281.5,536.7 L282.0,536.6 L282.5,537.0 L283.0,537.5 L283.5,535.6 L284.0,536.4 L284.5,536.0 L285.0,537.1 L285.5,535.5 L286.0,536.6 L286.5,535.1 L287.0,535.0 L287.5,536.8 L288.0,536.5 L288.5,535.3 L289.0,534.6 L289.5,535.3 L290.0,536.0 L290.5,535.6 L291.0,534.9 L291.5,536.0 L292.0,536.6 L292.5,534.9 L293.0,535.7 L293.5,535.2 L294.0,536.4 L294.5,535.9 L295.0,535.4 L295.5,535.1 L296.0,536.4 L296.5,535.5 L297.0,535.9 L297.5,535.9 L298.0,536.4 L298.5,535.2 L299.0,535.8 L299.5,536.5 L300.0,537.3 L300.5,536.2 L301.0,536.0 L301.5,535.8 L302.0,535.7 L302.5,535.7 L303.0,535.3 L303.5,536.1 L304.0,536.1 L304.5,537.2 L305.0,536.2 L305.5,537.1 L306.0,535.7 L306.5,536.2 L307.0,537.2 L307.5,534.9 L308.0,533.9 L308.5,534.8 L309.0,533.7 L309.5,533.1 L310.0,532.6 L310.5,531.8 L311.0,531.6 L311.5,529.9 L312.0,527.9 L312.5,526.5 L313.0,525.4 L313.5,525.4 L314.0,527.2 L314.5,526.7 L315.0,528.9 L315.5,530.7 L316.0,531.3 L316.5,532.7 L317.0,532.8 L317.5,534.0 L318.0,533.4 L318.5,533.5 L319.0,535.5 L319.5,534.3 L320.0,534.4 L320.5,534.3 L321.0,536.0 L321.5,535.5 L322.0,535.6 L322.5,534.8 L323.0,535.1 L323.5,534.8 L324.0,535.1 L324.5,535.4 L325.0,534.9 L325.5,534.6 L326.0,535.7 L326.5,534.6 L327.0,536.0 L327.5,536.1 L328.0,534.4 L328.5,536.2 L329.0,534.8 L329.5,536.1 L330.0,534.9 L330.5,535.7 L331.0,534.4 L331.5,535.3 L332.0,534.8 L332.5,535.3 L333.0,535.0 L333.5,534.0 L334.0,534.4 L334.5,533.9 L335.0,534.3 L335.5,535.1 L336.0,535.2 L336.5,534.5 L337.0,533.8 L337.5,533.9 L338.0,535.0 L338.5,533.7 L339.0,532.7 L339.5,532.5 L340.0,532.5 L340.5,533.7 L341.0,532.6 L341.5,532.4 L342.0,533.2 L342.5,533.4 L343.0,532.4 L343.5,531.7 L344.0,532.3 L344.5,532.3 L345.0,530.7 L345.5,530.7 L346.0,532.3 L346.5,531.0 L347.0,530.7 L347.5,529.6 L348.0,529.5 L348.5,529.4 L349.0,529.9 L349.5,528.6 L350.0,527.0 L350.5,528.2 L351.0,527.7 L351.5,526.4 L352.0,524.5 L352.5,523.9 L353.0,523.2 L353.5,522.6 L354.0,523.1 L354.5,521.4 L355.0,522.0 L355.5,522.7 L356.0,522.9 L356.5,523.3 L357.0,523.4 L357.5,524.5 L358.0,525.0 L358.5,525.9 L359.0,526.5 L359.5,526.3 L360.0,526.9 L360.5,527.5 L361.0,527.8 L361.5,528.7 L362.0,528.4 L362.5,529.3 L363.0,530.5 L363.5,531.0 L364.0,531.8 L364.5,531.1 L365.0,532.2 L365.5,532.6 L366.0,532.9 L366.5,532.9 L367.0,533.9 L367.5,533.1 L368.0,533.2 L368.5,533.7 L369.0,533.9 L369.5,533.9 L370.0,534.8 L370.5,534.3 L371.0,534.2 L371.5,534.0 L372.0,535.4 L372.5,534.7 L373.0,535.3 L373.5,534.9 L374.0,536.1 L374.5,535.6 L375.0,534.5 L375.5,535.5 L376.0,534.8 L376.5,535.1 L377.0,535.9 L377.5,535.1 L378.0,535.9 L378.5,535.9 L379.0,536.4 L379.5,535.7 L380.0,536.5 L380.5,536.2 L381.0,537.0 L381.5,536.4 L382.0,536.6 L382.5,536.9 L383.0,536.9 L383.5,536.4 L384.0,536.8 L384.5,536.5 L385.0,536.6 L385.5,537.2 L386.0,536.2 L386.5,536.1 L387.0,537.0 L387.5,536.6 L388.0,537.2 L388.5,537.0 L389.0,537.1 L389.5,536.8 L390.0,537.0 L390.5,536.9 L391.0,537.2 L391.5,537.3 L392.0,536.9 L392.5,537.9 L393.0,537.8 L393.5,536.8 L394.0,536.3 L394.5,537.5 L395.0,536.5 L395.5,535.7 L396.0,536.5 L396.5,537.4 L397.0,537.8 L397.5,537.6 L398.0,538.1 L398.5,538.4 L399.0,538.7 L399.5,537.5 L400.0,538.1 L400.5,538.0 L401.0,538.3 L401.5,538.2 L402.0,538.6 L402.5,539.1 L403.0,538.0 L403.5,538.6 L404.0,537.8 L404.5,537.5 L405.0,538.4 L405.5,538.0 L406.0,538.1 L406.5,538.7 L407.0,537.7 L407.5,538.3 L408.0,538.8 L408.5,537.9 L409.0,538.4 L409.5,538.7 L410.0,538.5 L410.5,538.4 L411.0,538.7 L411.5,538.4 L412.0,538.6 L412.5,538.4 L413.0,538.0 L413.5,538.5 L414.0,538.6 L414.5,539.3 L415.0,539.1 L415.5,539.0 L416.0,538.9 L416.5,538.9 L417.0,538.5 L417.5,538.9 L418.0,538.4 L418.5,538.5 L419.0,538.2 L419.5,539.4 L420.0,538.9 L420.5,538.4 L421.0,538.8 L421.5,539.2 L422.0,538.8 L422.5,539.3 L423.0,539.1 L423.5,539.3 L424.0,537.9 L424.5,539.2 L425.0,539.1 L425.5,539.3 L426.0,538.7 L426.5,538.7 L427.0,538.7 L427.5,539.4 L428.0,539.4 L428.5,538.7 L429.0,539.2 L429.5,539.3 L430.0,539.1 L430.5,539.6 L431.0,539.9 L431.5,539.7 L432.0,539.5 L432.5,540.4 L433.0,540.2 L433.5,540.2 L434.0,540.0 L434.5,540.2 L435.0,539.9 L435.5,540.1 L436.0,540.3 L436.5,540.2 L437.0,539.9 L437.5,539.7 L438.0,540.3 L438.5,539.6 L439.0,540.2 L439.5,540.0 L440.0,540.2 L440.5,539.9 L441.0,539.8 L441.5,540.3 L442.0,539.9 L442.5,540.2 L443.0,540.4 L443.5,540.3 L444.0,539.9 L444.5,540.8 L445.0,540.4 L445.5,540.9 L446.0,540.8 L446.5,540.4 L447.0,540.2 L447.5,540.1 L448.0,540.8 L448.5,541.0 L449.0,540.6 L449.5,540.7 L450.0,540.2 L450.5,540.3 L451.0,540.6 L451.5,541.1 L452.0,540.7 L452.5,541.1 L453.0,540.9 L453.5,540.6 L454.0,540.5 L454.5,540.8 L455.0,540.6 L455.5,541.1 L456.0,541.0 L456.5,540.4 L457.0,540.5 L457.5,540.4 L458.0,540.9 L458.5,541.0 L459.0,540.5 L459.5,540.6 L460.0,541.0 L460.5,540.5 L461.0,541.1 L461.5,541.4 L462.0,541.4 L462.5,541.0 L463.0,541.0 L463.5,541.3 L464.0,541.4 L464.5,541.6 L465.0,541.2 L465.5,541.2 L466.0,541.4 L466.5,541.8 L467.0,541.1 L467.5,541.7 L468.0,541.5 L468.5,541.4 L469.0,541.1 L469.5,541.4 L470.0,541.3 L470.5,540.7 L471.0,541.5 L471.5,541.1 L472.0,541.5 L472.5,541.2 L473.0,541.6 L473.5,541.6 L474.0,541.4 L474.5,541.9 L475.0,541.8 L475.5,541.3 L476.0,542.4 L476.5,542.2 L477.0,542.2 L477.5,542.1 L478.0,542.3 L478.5,541.9 L479.0,542.2 L479.5,542.3 L480.0,542.0 L480.5,542.1 L481.0,542.0 L481.5,541.7 L482.0,542.1 L482.5,542.0 L483.0,542.3 L483.5,542.1 L484.0,541.8 L484.5,542.1 L485.0,541.9 L485.5,541.5 L486.0,542.0 L486.5,541.8 L487.0,542.4 L487.5,542.1 L488.0,542.2 L488.5,542.1 L489.0,542.0 L489.5,542.3 L490.0,541.7 L490.5,542.2 L491.0,542.0 L491.5,541.5 L492.0,542.0 L492.5,542.1 L493.0,542.0 L493.5,542.4 L494.0,542.2 L494.5,542.0 L495.0,541.9 L495.5,542.0 L496.0,542.1 L496.5,542.4 L497.0,542.5 L497.5,542.4 L498.0,542.4 L498.5,542.3 L499.0,542.3 L499.5,542.2 L500.0,542.9 L500.5,542.7 L501.0,542.6 L501.5,542.3 L502.0,542.2 L502.5,542.4 L503.0,542.5 L503.5,542.4 L504.0,542.7 L504.5,542.5 L505.0,542.6 L505.5,542.6 L506.0,542.7 L506.5,542.5 L507.0,542.6 L507.5,542.5 L508.0,542.6 L508.5,542.6 L509.0,542.7 L509.5,542.8 L510.0,542.9 L510.5,542.6 L511.0,542.7 L511.5,543.0 L512.0,543.2 L512.5,543.0 L513.0,543.0 L513.5,543.0 L514.0,542.8 L514.5,543.2 L515.0,542.6 L515.5,542.5 L516.0,542.6 L516.5,542.7 L517.0,542.8 L517.5,542.9 L518.0,543.0 L518.5,542.9 L519.0,542.9 L519.5,543.2 L520.0,543.1 L520.5,543.2 L521.0,543.0 L521.5,542.8 L522.0,543.1 L522.5,543.1 L523.0,543.2 L523.5,543.0 L524.0,542.9 L524.5,543.3 L525.0,542.8 L525.5,542.6 L526.0,542.9 L526.5,542.9 L527.0,543.2 L527.5,543.1 L528.0,543.2 L528.5,543.2 L529.0,543.3 L529.5,542.8 L530.0,543.2 L530.5,542.9 L531.0,543.4 L531.5,543.0 L532.0,543.0 L532.5,543.3 L533.0,543.2 L533.5,543.1 L534.0,543.3 L534.5,543.1 L535.0,543.1 L535.5,543.4 L536.0,543.0 L536.5,543.2 L537.0,542.9 L537.5,543.3 L538.0,543.2 L538.5,543.4 L539.0,543.7 L539.5,542.9 L540.0,543.1 L540.5,543.3 L541.0,543.4 L541.5,543.1 L542.0,543.4 L542.5,543.3 L543.0,543.5 L543.5,543.3 L544.0,544.0 L544.5,543.5 L545.0,543.6 L545.5,542.9 L546.0,543.3 L546.5,543.4 L547.0,543.7 L547.5,543.3 L548.0,543.6 L548.5,543.3 L549.0,543.6 L549.5,543.2 L550.0,543.3 L550.5,543.5 L551.0,543.8 L551.5,543.8 L552.0,543.5 L552.5,543.3 L553.0,543.8 L553.5,543.4 L554.0,543.3 L554.5,543.3 L555.0,543.4 L555.5,543.9 L556.0,543.6 L556.5,543.5 L557.0,543.5 L557.5,543.3 L558.0,544.0 L558.5,543.5 L559.0,543.8 L559.5,543.6 L560.0,543.7 L560.5,543.4 L561.0,543.9 L561.5,544.5 L562.0,544.3 L562.5,543.9 L563.0,544.1 L563.5,543.7 L564.0,543.6 L564.5,544.1 L565.0,543.7 L565.5,544.1 L566.0,543.9 L566.5,543.4 L567.0,543.6 L567.5,543.6 L568.0,543.7 L568.5,543.5 L569.0,543.6 L569.5,543.4 L570.0,544.1 L570.5,543.9 L571.0,543.8 L571.5,543.5 L572.0,543.9 L572.5,544.5 L573.0,544.1 L573.5,544.3 L574.0,543.5 L574.5,543.9 L575.0,544.0 L575.5,544.3 L576.0,544.0 L576.5,544.3 L577.0,544.4 L577.5,544.2 L578.0,544.1 L578.5,544.3 L579.0,543.9 L579.5,543.8 L580.0,543.7 L580.5,544.1 L581.0,543.9 L581.5,544.0 L582.0,543.8 L582.5,544.0 L583.0,544.4 L583.5,544.1 L584.0,543.9 L584.5,543.9 L585.0,543.9 L585.5,544.2 L586.0,544.1 L586.5,544.1 L587.0,544.1 L587.5,543.8 L588.0,543.9 L588.5,544.1 L589.0,544.1 L589.5,544.3 L590.0,544.4 L590.5,544.1 L591.0,544.2 L591.5,544.2 L592.0,544.1 L592.5,544.2 L593.0,544.3 L593.5,543.8 L594.0,544.2 L594.5,544.2 L595.0,544.0 L595.5,543.8 L596.0,544.3 L596.5,544.1 L597.0,544.0 L597.5,543.9 L598.0,544.2 L598.5,544.0 L599.0,543.9 L599.5,544.5 L600.0,544.0 L600.5,544.3 L601.0,544.0 L601.5,544.2 L602.0,544.3 L602.5,544.1 L603.0,544.3 L603.5,544.2 L604.0,544.6 L604.5,544.4 L605.0,544.4 L605.5,544.1 L606.0,544.2 L606.5,544.3 L607.0,544.7 L607.5,544.6 L608.0,544.4 L608.5,544.5 L609.0,544.4 L609.5,544.4 L610.0,544.4 L610.5,544.3 L611.0,544.5 L611.5,545.0 L612.0,544.3 L612.5,544.5 L613.0,544.5 L613.5,544.3 L614.0,544.4 L614.5,544.2 L615.0,544.3 L615.5,544.6 L616.0,544.6 L616.5,544.3 L617.0,544.3 L617.5,544.1 L618.0,544.5 L618.5,544.2 L619.0,544.1 L619.5,544.4 L620.0,544.3 L620.5,544.1 L621.0,544.6 L621.5,544.1 L622.0,544.2 L622.5,544.7 L623.0,544.5 L623.5,544.2 L624.0,544.7 L624.5,544.7 L625.0,544.4 L625.5,544.5 L626.0,544.6 L626.5,544.7 L627.0,544.4 L627.5,544.2 L628.0,544.4 L628.5,544.4 L629.0,544.1 L629.5,544.4 L630.0,544.3 L630.5,544.4 L631.0,544.6 L631.5,544.5 L632.0,544.9 L632.5,544.5 L633.0,544.5 L633.5,544.3 L634.0,544.6 L634.5,544.6 L635.0,544.2 L635.5,544.5 L636.0,544.8 L636.5,544.5 L637.0,544.6 L637.5,544.6 L638.0,545.0 L638.5,544.3 L639.0,544.5 L639.5,544.3 L640.0,544.4 L640.5,544.9 L641.0,544.7 L641.5,544.8 L642.0,544.7 L642.5,544.6 L643.0,544.9 L643.5,544.3 L644.0,544.7 L644.5,544.5 L645.0,544.1" fill="none" stroke="#000" stroke-width="2.15" stroke-linejoin="round" stroke-linecap="round"/>
<path d="M49,26.6 V607.5 H660.6" fill="none" stroke="#161616" stroke-width="1.95"/>
<line x1="124.35" y1="597" x2="124.35" y2="608.4" stroke="#161616" stroke-width="1.85"/>
<line x1="199.4" y1="597" x2="199.4" y2="608.4" stroke="#161616" stroke-width="1.85"/>
<line x1="282.9" y1="597" x2="282.9" y2="608.4" stroke="#161616" stroke-width="1.85"/>
<line x1="359.1" y1="597" x2="359.1" y2="608.4" stroke="#161616" stroke-width="1.85"/>
<line x1="434.8" y1="597" x2="434.8" y2="608.4" stroke="#161616" stroke-width="1.85"/>
<line x1="510.5" y1="597" x2="510.5" y2="608.4" stroke="#161616" stroke-width="1.85"/>
<line x1="585.3" y1="597" x2="585.3" y2="608.4" stroke="#161616" stroke-width="1.85"/>
<line x1="659.7" y1="597" x2="659.7" y2="608.4" stroke="#161616" stroke-width="1.85"/>
<line x1="159.0" y1="45" x2="159.0" y2="112.6" stroke="#111" stroke-width="1.7"/><path d="M156.0,109.1 L159.0,115.6 L162.0,109.1 Z" fill="#111"/>
<line x1="313.5" y1="66" x2="313.5" y2="140.1" stroke="#111" stroke-width="1.7"/><path d="M310.3,136.9 L313.5,143.1 L316.7,136.9 Z" fill="#111"/>
<path d="M353.6,91.8 Q363,90 372.6,89.2" fill="none" stroke="#111" stroke-width="1.5"/>
<line x1="324.2" y1="578.3" x2="348.6" y2="578.3" stroke="#111" stroke-width="1.5"/>
<text y="31.8" font-size="21.2"><tspan x="110.80" textLength="85.95" lengthAdjust="spacingAndGlyphs">Ettringite</tspan></text>
<text y="54.7" font-size="23.2"><tspan x="300.28" textLength="32.35" lengthAdjust="spacingAndGlyphs">CH</tspan></text>
<text y="96.8" font-size="22.9"><tspan x="378.50" textLength="31.91" lengthAdjust="spacingAndGlyphs">CH</tspan></text>
<text y="68" font-size="23.1"><tspan x="467.38" textLength="36.22" lengthAdjust="spacingAndGlyphs">Mix</tspan> <tspan x="509.27" textLength="11.32" lengthAdjust="spacingAndGlyphs">1</tspan> <tspan x="528.79" textLength="118.91" lengthAdjust="spacingAndGlyphs">(Reference)</tspan></text>
<text y="99" font-size="20.1"><tspan x="468.89" textLength="20.91" lengthAdjust="spacingAndGlyphs">15</tspan> <tspan x="493.99" textLength="18.16" lengthAdjust="spacingAndGlyphs">%</tspan> <tspan x="516.92" textLength="18.63" lengthAdjust="spacingAndGlyphs">fly</tspan> <tspan x="542.22" textLength="39.26" lengthAdjust="spacingAndGlyphs">ash,</tspan></text>
<text y="123.5" font-size="20.1"><tspan x="469.12" textLength="25.82" lengthAdjust="spacingAndGlyphs">7,5</tspan> <tspan x="497.83" textLength="16.97" lengthAdjust="spacingAndGlyphs">%</tspan> <tspan x="518.85" textLength="42.09" lengthAdjust="spacingAndGlyphs">steel</tspan> <tspan x="565.54" textLength="37.06" lengthAdjust="spacingAndGlyphs">slag</tspan></text>
<text y="147.8" font-size="20.1"><tspan x="467.86" textLength="36.72" lengthAdjust="spacingAndGlyphs">22.5</tspan> <tspan x="507.58" textLength="15.66" lengthAdjust="spacingAndGlyphs">%</tspan> <tspan x="527.00" textLength="39.14" lengthAdjust="spacingAndGlyphs">blast</tspan> <tspan x="571.23" textLength="60.55" lengthAdjust="spacingAndGlyphs">furnace</tspan> <tspan x="636.47" textLength="35.37" lengthAdjust="spacingAndGlyphs">slag</tspan></text>
<text y="205.3" font-size="20.7"><tspan x="351.62" textLength="47.41" lengthAdjust="spacingAndGlyphs">From</tspan> <tspan x="404.61" textLength="19.34" lengthAdjust="spacingAndGlyphs">fly</tspan> <tspan x="429.80" textLength="40.01" lengthAdjust="spacingAndGlyphs">ash,</tspan> <tspan x="473.31" textLength="28.54" lengthAdjust="spacingAndGlyphs">not</tspan> <tspan x="507.42" textLength="36.75" lengthAdjust="spacingAndGlyphs">river</tspan> <tspan x="550.54" textLength="44.15" lengthAdjust="spacingAndGlyphs">sand</tspan></text>
<text y="244.2" font-size="23.1"><tspan x="467.57" textLength="36.43" lengthAdjust="spacingAndGlyphs">Mix</tspan> <tspan x="509.78" textLength="12.76" lengthAdjust="spacingAndGlyphs">5</tspan> <tspan x="528.37" textLength="93.99" lengthAdjust="spacingAndGlyphs">(Optimal)</tspan></text>
<text y="273.5" font-size="20.0"><tspan x="467.93" textLength="27.02" lengthAdjust="spacingAndGlyphs">(15</tspan> <tspan x="499.41" textLength="17.51" lengthAdjust="spacingAndGlyphs">%</tspan> <tspan x="522.32" textLength="18.52" lengthAdjust="spacingAndGlyphs">fly</tspan> <tspan x="547.00" textLength="39.90" lengthAdjust="spacingAndGlyphs">ash,</tspan></text>
<text y="297.8" font-size="20.0"><tspan x="468.07" textLength="44.86" lengthAdjust="spacingAndGlyphs">7,5%</tspan> <tspan x="517.05" textLength="42.30" lengthAdjust="spacingAndGlyphs">steel</tspan> <tspan x="564.17" textLength="40.98" lengthAdjust="spacingAndGlyphs">slag,</tspan> <tspan x="609.40" textLength="63.58" lengthAdjust="spacingAndGlyphs">22.5%)</tspan></text>
<text y="370.9" font-size="22.7"><tspan x="467.18" textLength="36.11" lengthAdjust="spacingAndGlyphs">Mix</tspan> <tspan x="508.79" textLength="13.25" lengthAdjust="spacingAndGlyphs">8</tspan></text>
<text y="403.9" font-size="20.7"><tspan x="467.40" textLength="60.73" lengthAdjust="spacingAndGlyphs">Higher</tspan> <tspan x="534.20" textLength="52.50" lengthAdjust="spacingAndGlyphs">waste</tspan> <tspan x="592.42" textLength="67.54" lengthAdjust="spacingAndGlyphs">content</tspan></text>
<text y="482" font-size="22.7"><tspan x="467.18" textLength="36.11" lengthAdjust="spacingAndGlyphs">Mix</tspan> <tspan x="508.65" textLength="13.47" lengthAdjust="spacingAndGlyphs">9</tspan></text>
<text y="514.6" font-size="20.7"><tspan x="467.40" textLength="60.73" lengthAdjust="spacingAndGlyphs">Higher</tspan> <tspan x="534.20" textLength="52.50" lengthAdjust="spacingAndGlyphs">waste</tspan> <tspan x="592.42" textLength="67.54" lengthAdjust="spacingAndGlyphs">content</tspan></text>
<text y="502.3" font-size="22.4"><tspan x="346.56" textLength="102.38" lengthAdjust="spacingAndGlyphs">(C-(A)-S-H</tspan></text>
<text y="570.2" font-size="20.9"><tspan x="62.22" textLength="75.72" lengthAdjust="spacingAndGlyphs">Intensity</tspan> <tspan x="145.70" textLength="87.42" lengthAdjust="spacingAndGlyphs">variations</tspan> <tspan x="238.44" textLength="69.56" lengthAdjust="spacingAndGlyphs">indicate</tspan></text>
<text y="593.4" font-size="20.9"><tspan x="62.77" textLength="96.60" lengthAdjust="spacingAndGlyphs">pozzolanic</tspan> <tspan x="164.91" textLength="73.23" lengthAdjust="spacingAndGlyphs">reaction</tspan> <tspan x="243.48" textLength="79.25" lengthAdjust="spacingAndGlyphs">progress</tspan></text>
<text y="578.3" font-size="22.7"><tspan x="396.07" textLength="68.89" lengthAdjust="spacingAndGlyphs">28-day</tspan> <tspan x="471.04" textLength="61.50" lengthAdjust="spacingAndGlyphs">curing</tspan> <tspan x="537.35" textLength="62.21" lengthAdjust="spacingAndGlyphs">period</tspan></text>
<text y="636" font-size="21.6"><tspan x="45.56" textLength="11.71" lengthAdjust="spacingAndGlyphs">5</tspan></text>
<text y="636" font-size="21.6"><tspan x="114.00" textLength="22.30" lengthAdjust="spacingAndGlyphs">10</tspan></text>
<text y="636" font-size="21.6"><tspan x="189.09" textLength="22.36" lengthAdjust="spacingAndGlyphs">15</tspan></text>
<text y="636" font-size="21.6"><tspan x="270.91" textLength="24.15" lengthAdjust="spacingAndGlyphs">20</tspan></text>
<text y="636" font-size="21.6"><tspan x="346.58" textLength="24.86" lengthAdjust="spacingAndGlyphs">25</tspan></text>
<text y="636" font-size="21.6"><tspan x="422.60" textLength="23.86" lengthAdjust="spacingAndGlyphs">30</tspan></text>
<text y="636" font-size="21.6"><tspan x="498.50" textLength="24.64" lengthAdjust="spacingAndGlyphs">45</tspan></text>
<text y="636" font-size="21.6"><tspan x="572.69" textLength="24.59" lengthAdjust="spacingAndGlyphs">60</tspan></text>
<text y="636" font-size="21.6"><tspan x="646.55" textLength="24.43" lengthAdjust="spacingAndGlyphs">70</tspan></text>
<text y="667.5" font-size="21.7"><tspan class="ser" x="295.46" textLength="10.41" lengthAdjust="spacingAndGlyphs">2</tspan><tspan class="ser" x="307.41" textLength="13.73" lengthAdjust="spacingAndGlyphs">θ</tspan> <tspan x="326.48" textLength="97.44" lengthAdjust="spacingAndGlyphs">(degrees)</tspan></text>
<text transform="translate(31.6,355) rotate(-90)" y="0" font-size="22.6"><tspan x="-2.19" textLength="88.34" lengthAdjust="spacingAndGlyphs">Intensity</tspan> <tspan x="94.95" textLength="92.52" lengthAdjust="spacingAndGlyphs">(arbitrary</tspan> <tspan x="196.73" textLength="44.61" lengthAdjust="spacingAndGlyphs">units</tspan></text>
</svg>
</body></html>
